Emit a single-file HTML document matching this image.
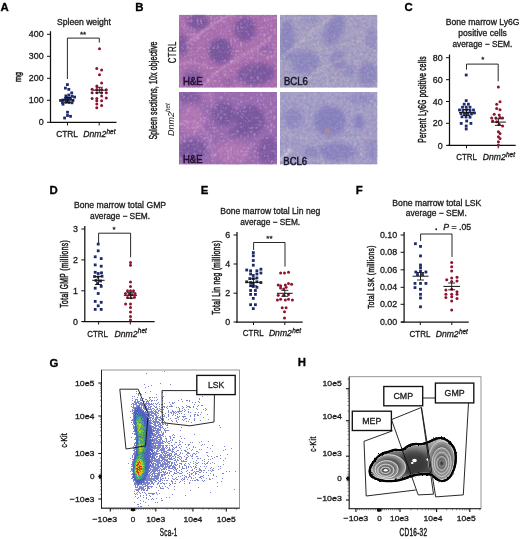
<!DOCTYPE html>
<html><head><meta charset="utf-8"><style>
html,body{margin:0;padding:0;background:#fff;}
svg{display:block;will-change:transform;font-family:"Liberation Sans", sans-serif;}
</style></head><body>
<svg width="520" height="539" viewBox="0 0 520 539">
<defs><filter id="blur3" x="-50%" y="-50%" width="200%" height="200%"><feGaussianBlur stdDeviation="2.3"/></filter><filter id="blur2" x="-50%" y="-50%" width="200%" height="200%"><feGaussianBlur stdDeviation="2.0"/></filter><filter id="blur1" x="-30%" y="-30%" width="160%" height="160%"><feGaussianBlur stdDeviation="0.9"/></filter><filter id="texl" x="0" y="0" width="100%" height="100%"><feTurbulence type="turbulence" baseFrequency="0.3" numOctaves="2" seed="4"/><feColorMatrix type="matrix" values="0 0 0 0 0.96  0 0 0 0 0.8  0 0 0 0 0.96  0 0 0 2.5 -0.6"/></filter><filter id="texb" x="0" y="0" width="100%" height="100%"><feTurbulence type="turbulence" baseFrequency="0.3" numOctaves="2" seed="6"/><feColorMatrix type="matrix" values="0 0 0 0 0.88  0 0 0 0 0.88  0 0 0 0 0.9  0 0 0 2.5 -0.6"/></filter><filter id="texd" x="0" y="0" width="100%" height="100%"><feTurbulence type="fractalNoise" baseFrequency="0.35" numOctaves="3" seed="8"/><feColorMatrix type="matrix" values="0 0 0 0 0.3  0 0 0 0 0.1  0 0 0 0 0.5  1.5 0 0 0 -0.55"/></filter><clipPath id="c1"><rect x="179" y="14.8" width="98" height="72.9"/></clipPath><clipPath id="c2"><rect x="280" y="14.8" width="97.5" height="72.9"/></clipPath><clipPath id="c3"><rect x="179" y="92" width="98" height="72.6"/></clipPath><clipPath id="c4"><rect x="280" y="92" width="97.5" height="72.6"/></clipPath><radialGradient id="zz" cx="0.5" cy="0.5" r="0.5"><stop offset="0" stop-color="#2a2a2a"/><stop offset="0.6" stop-color="#555"/><stop offset="1" stop-color="#a8a8a8"/></radialGradient><filter id="rough" x="-10%" y="-10%" width="120%" height="120%"><feTurbulence type="fractalNoise" baseFrequency="0.35" numOctaves="2" seed="2"/><feDisplacementMap in="SourceGraphic" scale="2.6" xChannelSelector="R" yChannelSelector="G"/></filter><radialGradient id="zc" cx="0.5" cy="0.5" r="0.5"><stop offset="0" stop-color="#2a2a2a"/><stop offset="1" stop-color="#909090"/></radialGradient><linearGradient id="zb" x1="0" y1="0" x2="0" y2="1"><stop offset="0" stop-color="#bdbdbd"/><stop offset="0.45" stop-color="#5a5a5a"/><stop offset="0.8" stop-color="#4a4a4a"/><stop offset="1" stop-color="#aaaaaa"/></linearGradient><clipPath id="zclip"><path d="M369.9,468.9 Q370.5,466.0 372.6,463.1 Q374.6,460.2 376.3,458.4 Q378.0,456.5 380.1,455.0 Q382.3,453.5 384.1,452.9 Q386.0,452.2 388.0,451.9 Q390.0,451.5 391.9,450.6 Q393.8,449.6 395.8,449.8 Q397.7,450.0 400.1,450.0 Q402.5,450.0 403.9,448.9 Q405.4,447.7 407.8,446.2 Q410.2,444.8 412.6,444.3 Q415.0,443.8 417.5,444.0 Q420.0,444.2 422.8,443.9 Q425.5,443.5 428.6,442.1 Q431.7,440.6 433.9,439.5 Q436.1,438.4 438.9,438.1 Q441.7,437.8 444.5,438.9 Q447.3,440.0 449.6,442.2 Q451.8,444.5 453.5,447.2 Q455.1,450.0 455.6,453.9 Q456.0,457.9 455.6,461.8 Q455.1,465.7 454.0,469.0 Q452.9,472.4 451.2,475.2 Q449.5,478.0 447.2,479.4 Q445.0,480.7 442.8,481.0 Q440.6,481.3 438.4,480.1 Q436.1,479.0 433.9,476.8 Q431.7,474.6 430.0,474.4 Q428.3,474.2 426.2,474.1 Q424.2,474.0 421.1,474.2 Q418.0,474.5 415.0,475.1 Q412.0,475.8 409.1,476.9 Q406.3,478.0 402.5,479.2 Q398.7,480.4 393.9,480.9 Q389.0,481.3 384.2,480.9 Q379.4,480.4 375.1,478.4 Q370.8,476.5 370.1,474.1 Q369.3,471.7 369.9,468.9Z"/></clipPath></defs>
<rect width="520" height="539" fill="#fff"/>
<text x="0.6" y="11.2" font-size="11.4" font-weight="bold" fill="#000" stroke="#000" stroke-width="0.3">A</text>
<text x="57" y="25.4" font-size="8.6" textLength="54" lengthAdjust="spacingAndGlyphs" fill="#1a1a1a" stroke="#1a1a1a" stroke-width="0.3">Spleen weight</text>
<line x1="50.5" y1="31.2" x2="50.5" y2="123.0" stroke="#111" stroke-width="1.25"/>
<line x1="50.5" y1="122.4" x2="116.5" y2="122.4" stroke="#111" stroke-width="1.25"/>
<line x1="47.0" y1="34.3" x2="50.5" y2="34.3" stroke="#111" stroke-width="1.0"/>
<text x="43.6" y="37.4" font-size="8.9" text-anchor="end" fill="#1a1a1a" stroke="#1a1a1a" stroke-width="0.3">400</text>
<line x1="47.0" y1="56.3" x2="50.5" y2="56.3" stroke="#111" stroke-width="1.0"/>
<text x="43.6" y="59.4" font-size="8.9" text-anchor="end" fill="#1a1a1a" stroke="#1a1a1a" stroke-width="0.3">300</text>
<line x1="47.0" y1="78.3" x2="50.5" y2="78.3" stroke="#111" stroke-width="1.0"/>
<text x="43.6" y="81.39999999999999" font-size="8.9" text-anchor="end" fill="#1a1a1a" stroke="#1a1a1a" stroke-width="0.3">200</text>
<line x1="47.0" y1="100.3" x2="50.5" y2="100.3" stroke="#111" stroke-width="1.0"/>
<text x="43.6" y="103.39999999999999" font-size="8.9" text-anchor="end" fill="#1a1a1a" stroke="#1a1a1a" stroke-width="0.3">100</text>
<line x1="47.0" y1="122.3" x2="50.5" y2="122.3" stroke="#111" stroke-width="1.0"/>
<text x="43.6" y="125.39999999999999" font-size="8.9" text-anchor="end" fill="#1a1a1a" stroke="#1a1a1a" stroke-width="0.3">0</text>
<line x1="67.5" y1="122.4" x2="67.5" y2="125.4" stroke="#111" stroke-width="1.0"/>
<line x1="99.2" y1="122.4" x2="99.2" y2="125.4" stroke="#111" stroke-width="1.0"/>
<path d="M67.4,79 L67.4,38.1 L99.3,38.1 L99.3,42.6" stroke="#111" stroke-width="0.9" fill="none"/>
<text x="83" y="36.5" font-size="8" text-anchor="middle" fill="#1a1a1a" stroke="#1a1a1a" stroke-width="0.3">**</text>
<text transform="translate(21.2,76.9) rotate(-90)" x="0" y="0" font-size="8.8" text-anchor="middle" textLength="10" lengthAdjust="spacingAndGlyphs" fill="#1a1a1a" stroke="#1a1a1a" stroke-width="0.48">mg</text>
<text x="56.2" y="136.8" font-size="8.6" textLength="21.8" lengthAdjust="spacingAndGlyphs" fill="#1a1a1a" stroke="#1a1a1a" stroke-width="0.3">CTRL</text>
<text x="83.3" y="136.9" font-size="8.6" font-style="italic" fill="#1a1a1a" stroke="#1a1a1a" stroke-width="0.3">Dnm2<tspan font-size="6.4" dy="-3.2" dx="0.3">het</tspan></text>
<rect x="66.0" y="83.2" width="2.8" height="2.8" fill="#1d2a6c"/>
<rect x="64.0" y="86.7" width="2.8" height="2.8" fill="#1d2a6c"/>
<rect x="67.4" y="88.0" width="2.8" height="2.8" fill="#1d2a6c"/>
<rect x="70.3" y="91.5" width="2.8" height="2.8" fill="#1d2a6c"/>
<rect x="64.5" y="94.5" width="2.8" height="2.8" fill="#1d2a6c"/>
<rect x="67.4" y="93.6" width="2.8" height="2.8" fill="#1d2a6c"/>
<rect x="70.7" y="94.9" width="2.8" height="2.8" fill="#1d2a6c"/>
<rect x="73.2" y="95.7" width="2.8" height="2.8" fill="#1d2a6c"/>
<rect x="59.1" y="99.1" width="2.8" height="2.8" fill="#1d2a6c"/>
<rect x="61.6" y="98.6" width="2.8" height="2.8" fill="#1d2a6c"/>
<rect x="64.1" y="98.1" width="2.8" height="2.8" fill="#1d2a6c"/>
<rect x="66.6" y="98.2" width="2.8" height="2.8" fill="#1d2a6c"/>
<rect x="69.1" y="97.6" width="2.8" height="2.8" fill="#1d2a6c"/>
<rect x="71.6" y="99.1" width="2.8" height="2.8" fill="#1d2a6c"/>
<rect x="61.1" y="101.1" width="2.8" height="2.8" fill="#1d2a6c"/>
<rect x="64.6" y="100.9" width="2.8" height="2.8" fill="#1d2a6c"/>
<rect x="67.6" y="101.1" width="2.8" height="2.8" fill="#1d2a6c"/>
<rect x="70.6" y="101.4" width="2.8" height="2.8" fill="#1d2a6c"/>
<rect x="61.6" y="102.8" width="2.8" height="2.8" fill="#1d2a6c"/>
<rect x="66.1" y="110.8" width="2.8" height="2.8" fill="#1d2a6c"/>
<rect x="66.1" y="114.1" width="2.8" height="2.8" fill="#1d2a6c"/>
<rect x="69.1" y="114.9" width="2.8" height="2.8" fill="#1d2a6c"/>
<rect x="63.2" y="116.6" width="2.8" height="2.8" fill="#1d2a6c"/>
<rect x="65.1" y="96.1" width="2.8" height="2.8" fill="#1d2a6c"/>
<rect x="68.1" y="96.6" width="2.8" height="2.8" fill="#1d2a6c"/>
<circle cx="99.5" cy="48.7" r="1.5" fill="#8e1430"/>
<circle cx="96.8" cy="68.4" r="1.5" fill="#8e1430"/>
<circle cx="101.6" cy="70.0" r="1.5" fill="#8e1430"/>
<circle cx="99.5" cy="74.7" r="1.5" fill="#8e1430"/>
<circle cx="101.6" cy="82.9" r="1.5" fill="#8e1430"/>
<circle cx="96.8" cy="86.0" r="1.5" fill="#8e1430"/>
<circle cx="92.1" cy="89.2" r="1.5" fill="#8e1430"/>
<circle cx="96.8" cy="89.5" r="1.5" fill="#8e1430"/>
<circle cx="101.6" cy="89.5" r="1.5" fill="#8e1430"/>
<circle cx="106.3" cy="89.7" r="1.5" fill="#8e1430"/>
<circle cx="92.1" cy="92.8" r="1.5" fill="#8e1430"/>
<circle cx="96.8" cy="92.8" r="1.5" fill="#8e1430"/>
<circle cx="101.6" cy="92.8" r="1.5" fill="#8e1430"/>
<circle cx="106.3" cy="92.8" r="1.5" fill="#8e1430"/>
<circle cx="101.6" cy="96.0" r="1.5" fill="#8e1430"/>
<circle cx="92.1" cy="98.4" r="1.5" fill="#8e1430"/>
<circle cx="96.8" cy="98.4" r="1.5" fill="#8e1430"/>
<circle cx="106.3" cy="98.0" r="1.5" fill="#8e1430"/>
<circle cx="96.8" cy="100.7" r="1.5" fill="#8e1430"/>
<circle cx="101.6" cy="100.7" r="1.5" fill="#8e1430"/>
<circle cx="96.8" cy="103.9" r="1.5" fill="#8e1430"/>
<circle cx="101.6" cy="105.5" r="1.5" fill="#8e1430"/>
<circle cx="96.8" cy="107.8" r="1.5" fill="#8e1430"/>
<line x1="61.0" y1="100.0" x2="74.0" y2="100.0" stroke="#111" stroke-width="1.0"/>
<line x1="67.5" y1="97.6" x2="67.5" y2="102.4" stroke="#111" stroke-width="0.9"/>
<line x1="64.0" y1="97.6" x2="71.0" y2="97.6" stroke="#111" stroke-width="0.9"/>
<line x1="64.0" y1="102.4" x2="71.0" y2="102.4" stroke="#111" stroke-width="0.9"/>
<line x1="92.8" y1="90.2" x2="105.8" y2="90.2" stroke="#111" stroke-width="1.0"/>
<line x1="99.3" y1="87.3" x2="99.3" y2="92.8" stroke="#111" stroke-width="0.9"/>
<line x1="95.8" y1="87.3" x2="102.8" y2="87.3" stroke="#111" stroke-width="0.9"/>
<line x1="95.8" y1="92.8" x2="102.8" y2="92.8" stroke="#111" stroke-width="0.9"/>
<text x="135.2" y="10.6" font-size="11.4" font-weight="bold" fill="#000" stroke="#000" stroke-width="0.3">B</text>
<g clip-path="url(#c1)">
<rect x="179" y="14.8" width="98" height="72.9" fill="#ac72ac"/>
<g filter="url(#blur3)">
<ellipse cx="198" cy="22" rx="11" ry="8" transform="rotate(0 198 22)" fill="#725498" opacity="0.85"/>
<ellipse cx="245" cy="29" rx="11" ry="12" transform="rotate(0 245 29)" fill="#725498" opacity="0.85"/>
<ellipse cx="220.5" cy="51" rx="12" ry="13" transform="rotate(0 220.5 51)" fill="#725498" opacity="0.95"/>
<ellipse cx="182" cy="45" rx="6" ry="11" transform="rotate(0 182 45)" fill="#725498" opacity="0.8"/>
<ellipse cx="256" cy="74" rx="19" ry="11" transform="rotate(-8 256 74)" fill="#725498" opacity="0.9"/>
<ellipse cx="193" cy="78" rx="10" ry="7" transform="rotate(0 193 78)" fill="#725498" opacity="0.7"/>
<ellipse cx="266" cy="50" rx="6" ry="6" transform="rotate(0 266 50)" fill="#725498" opacity="0.4"/>
<ellipse cx="228" cy="82" rx="6" ry="5" transform="rotate(0 228 82)" fill="#725498" opacity="0.35"/>
</g><g filter="url(#blur1)">
<path d="M186,44 Q200,34 212,25 T232,15" stroke="#d4aad0" stroke-width="1.6" fill="none" opacity="0.75" stroke-linecap="round"/>
<path d="M203,88 Q215,70 236,60 T272,36" stroke="#d4aad0" stroke-width="1.5" fill="none" opacity="0.7" stroke-linecap="round"/>
<path d="M179,64 Q195,60 208,68" stroke="#d4aad0" stroke-width="1.1" fill="none" opacity="0.6" stroke-linecap="round"/>
<path d="M236,88 L258,60" stroke="#d4aad0" stroke-width="0.8" fill="none" opacity="0.5" stroke-linecap="round"/>
<path d="M250,47 Q260,56 277,57" stroke="#d4aad0" stroke-width="1.0" fill="none" opacity="0.5" stroke-linecap="round"/>
</g>
<rect x="179" y="14.8" width="98" height="72.9" filter="url(#texl)" opacity="0.3"/>
<rect x="179" y="14.8" width="98" height="72.9" filter="url(#texd)" opacity="0.6"/>
</g>
<g clip-path="url(#c2)">
<rect x="280" y="14.8" width="97.5" height="72.9" fill="#a6a6c2"/>
<g filter="url(#blur3)">
<ellipse cx="287" cy="40" rx="8" ry="20" transform="rotate(0 287 40)" fill="#8080bc" opacity="0.7"/>
<ellipse cx="334" cy="30" rx="9" ry="16" transform="rotate(25 334 30)" fill="#8080bc" opacity="0.75"/>
<ellipse cx="305" cy="62" rx="14" ry="12" transform="rotate(0 305 62)" fill="#8080bc" opacity="0.7"/>
<ellipse cx="338" cy="60" rx="8" ry="10" transform="rotate(0 338 60)" fill="#8080bc" opacity="0.6"/>
<ellipse cx="368" cy="74" rx="10" ry="12" transform="rotate(0 368 74)" fill="#8080bc" opacity="0.7"/>
<ellipse cx="349" cy="71" rx="5" ry="6" transform="rotate(0 349 71)" fill="#8080bc" opacity="0.6"/>
<ellipse cx="372" cy="40" rx="6" ry="12" transform="rotate(0 372 40)" fill="#8080bc" opacity="0.45"/>
<ellipse cx="310" cy="20" rx="8" ry="5" transform="rotate(0 310 20)" fill="#8080bc" opacity="0.4"/>
</g><g filter="url(#blur1)">
<path d="M284,56 Q300,42 315,30 T332,14" stroke="#bcbcc4" stroke-width="1.8" fill="none" opacity="0.8" stroke-linecap="round"/>
<path d="M300,88 Q312,72 326,66 T350,56" stroke="#bcbcc4" stroke-width="1.5" fill="none" opacity="0.7" stroke-linecap="round"/>
<path d="M318,46 L330,86" stroke="#bcbcc4" stroke-width="1.0" fill="none" opacity="0.6" stroke-linecap="round"/>
<path d="M352,30 Q360,46 377,52" stroke="#bcbcc4" stroke-width="1.2" fill="none" opacity="0.6" stroke-linecap="round"/>
</g>
<rect x="280" y="14.8" width="97.5" height="72.9" filter="url(#texb)" opacity="0.18"/>
<rect x="280" y="14.8" width="97.5" height="72.9" filter="url(#texd)" opacity="0.5"/>
</g>
<g clip-path="url(#c3)">
<rect x="179" y="92" width="98" height="72.6" fill="#9a6eae"/>
<g filter="url(#blur3)">
<ellipse cx="192" cy="120" rx="13" ry="15" transform="rotate(0 192 120)" fill="#b87cb4" opacity="0.85"/>
<ellipse cx="232" cy="153" rx="18" ry="11" transform="rotate(0 232 153)" fill="#b87cb4" opacity="0.8"/>
<ellipse cx="208" cy="96" rx="8" ry="4" transform="rotate(0 208 96)" fill="#b87cb4" opacity="0.6"/>
<ellipse cx="224" cy="114" rx="12" ry="12" transform="rotate(0 224 114)" fill="#725498" opacity="0.9"/>
<ellipse cx="250" cy="121" rx="15" ry="16" transform="rotate(0 250 121)" fill="#725498" opacity="0.9"/>
<ellipse cx="193" cy="151" rx="14" ry="12" transform="rotate(0 193 151)" fill="#725498" opacity="0.85"/>
<ellipse cx="268" cy="150" rx="10" ry="14" transform="rotate(0 268 150)" fill="#725498" opacity="0.75"/>
<ellipse cx="190" cy="97" rx="12" ry="6" transform="rotate(0 190 97)" fill="#725498" opacity="0.6"/>
<ellipse cx="237" cy="132" rx="9" ry="6" transform="rotate(0 237 132)" fill="#725498" opacity="0.6"/>
</g><g filter="url(#blur1)">
<path d="M179,124 Q190,118 200,126 T214,160" stroke="#d4aad0" stroke-width="1.3" fill="none" opacity="0.65" stroke-linecap="round"/>
<path d="M212,92 Q210,106 220,114" stroke="#d4aad0" stroke-width="1.0" fill="none" opacity="0.5" stroke-linecap="round"/>
<path d="M240,164 Q246,150 262,136" stroke="#d4aad0" stroke-width="1.0" fill="none" opacity="0.5" stroke-linecap="round"/>
<path d="M200,165 L212,138" stroke="#d4aad0" stroke-width="0.9" fill="none" opacity="0.5" stroke-linecap="round"/>
</g>
<rect x="179" y="92" width="98" height="72.6" filter="url(#texl)" opacity="0.3"/>
<rect x="179" y="92" width="98" height="72.6" filter="url(#texd)" opacity="0.6"/>
</g>
<g clip-path="url(#c4)">
<rect x="280" y="92" width="97.5" height="72.6" fill="#a3a3c6"/>
<g filter="url(#blur3)">
<ellipse cx="330" cy="121" rx="16" ry="15" transform="rotate(0 330 121)" fill="#8080bc" opacity="0.85"/>
<ellipse cx="359" cy="122" rx="5" ry="7" transform="rotate(0 359 122)" fill="#8080bc" opacity="0.85"/>
<ellipse cx="337" cy="152" rx="20" ry="9" transform="rotate(0 337 152)" fill="#8080bc" opacity="0.75"/>
<ellipse cx="293" cy="118" rx="10" ry="10" transform="rotate(0 293 118)" fill="#8080bc" opacity="0.6"/>
<ellipse cx="312" cy="151" rx="9" ry="6" transform="rotate(0 312 151)" fill="#8080bc" opacity="0.6"/>
<ellipse cx="361" cy="99" rx="13" ry="5" transform="rotate(0 361 99)" fill="#8080bc" opacity="0.5"/>
<ellipse cx="372" cy="150" rx="6" ry="12" transform="rotate(0 372 150)" fill="#8080bc" opacity="0.45"/>
</g><g filter="url(#blur1)">
<path d="M280,132 Q296,134 310,142 T322,165" stroke="#bcbcc4" stroke-width="1.6" fill="none" opacity="0.7" stroke-linecap="round"/>
<path d="M280,160 L290,150" stroke="#e0e0e6" stroke-width="2.5" fill="none" opacity="0.8" stroke-linecap="round"/>
<path d="M300,92 Q318,98 340,104" stroke="#bcbcc4" stroke-width="1.0" fill="none" opacity="0.5" stroke-linecap="round"/>
<path d="M342,140 Q354,136 377,138" stroke="#bcbcc4" stroke-width="1.1" fill="none" opacity="0.6" stroke-linecap="round"/>
</g>
<rect x="280" y="92" width="97.5" height="72.6" filter="url(#texb)" opacity="0.18"/>
<rect x="280" y="92" width="97.5" height="72.6" filter="url(#texd)" opacity="0.5"/>
</g>
<circle cx="327.5" cy="131" r="3.2" fill="#b89090" opacity="0.55" filter="url(#blur1)"/>
<text x="182.9" y="162.7" font-size="10.4" textLength="19.6" lengthAdjust="spacingAndGlyphs" fill="#24102e" stroke="#24102e" stroke-width="0.5">H&amp;E</text>
<text x="182.9" y="85.4" font-size="10.4" textLength="19.9" lengthAdjust="spacingAndGlyphs" fill="#24102e" stroke="#24102e" stroke-width="0.5">H&amp;E</text>
<text x="284" y="85.4" font-size="10.4" textLength="23.8" lengthAdjust="spacingAndGlyphs" fill="#15152a" stroke="#15152a" stroke-width="0.45">BCL6</text>
<text x="283.3" y="165.2" font-size="10.4" textLength="23.8" lengthAdjust="spacingAndGlyphs" fill="#15152a" stroke="#15152a" stroke-width="0.45">BCL6</text>
<text transform="translate(157.3,90.6) rotate(-90) scale(0.68,1)" x="0" y="0" font-size="10.2" text-anchor="middle" textLength="144.12" lengthAdjust="spacing" fill="#1a1a1a" stroke="#1a1a1a" stroke-width="0.48">Spleen sections, 10x objective</text>
<text transform="translate(175.8,52.5) rotate(-90) scale(0.76,1)" x="0" y="0" font-size="10.3" text-anchor="middle" textLength="28.42" lengthAdjust="spacing" fill="#1a1a1a" stroke="#1a1a1a" stroke-width="0.3">CTRL</text>
<text transform="translate(173.7,136) rotate(-90)" x="0" y="0" font-size="9" font-style="italic" fill="#1a1a1a">Dnm2<tspan font-size="6.4" dy="-3.4">het</tspan></text>
<text x="404.6" y="10.8" font-size="11.4" font-weight="bold" fill="#000" stroke="#000" stroke-width="0.3">C</text>
<text x="482.6" y="25.4" font-size="8.6" text-anchor="middle" textLength="73.7" lengthAdjust="spacingAndGlyphs" fill="#1a1a1a" stroke="#1a1a1a" stroke-width="0.3">Bone marrow Ly6G</text>
<text x="482.6" y="36.2" font-size="8.6" text-anchor="middle" textLength="48.5" lengthAdjust="spacingAndGlyphs" fill="#1a1a1a" stroke="#1a1a1a" stroke-width="0.3">positive cells</text>
<text x="482.4" y="46.9" font-size="8.6" text-anchor="middle" textLength="60" lengthAdjust="spacingAndGlyphs" fill="#1a1a1a" stroke="#1a1a1a" stroke-width="0.3">average − SEM.</text>
<line x1="449.5" y1="54.5" x2="449.5" y2="145.9" stroke="#111" stroke-width="1.25"/>
<line x1="447.7" y1="145.3" x2="515.7" y2="145.3" stroke="#111" stroke-width="1.25"/>
<line x1="446.0" y1="57.7" x2="449.5" y2="57.7" stroke="#111" stroke-width="1.0"/>
<text x="442.6" y="60.800000000000004" font-size="8.9" text-anchor="end" fill="#1a1a1a" stroke="#1a1a1a" stroke-width="0.3">80</text>
<line x1="446.0" y1="79.7" x2="449.5" y2="79.7" stroke="#111" stroke-width="1.0"/>
<text x="442.6" y="82.8" font-size="8.9" text-anchor="end" fill="#1a1a1a" stroke="#1a1a1a" stroke-width="0.3">60</text>
<line x1="446.0" y1="101.5" x2="449.5" y2="101.5" stroke="#111" stroke-width="1.0"/>
<text x="442.6" y="104.6" font-size="8.9" text-anchor="end" fill="#1a1a1a" stroke="#1a1a1a" stroke-width="0.3">40</text>
<line x1="446.0" y1="123.3" x2="449.5" y2="123.3" stroke="#111" stroke-width="1.0"/>
<text x="442.6" y="126.39999999999999" font-size="8.9" text-anchor="end" fill="#1a1a1a" stroke="#1a1a1a" stroke-width="0.3">20</text>
<line x1="446.0" y1="145.4" x2="449.5" y2="145.4" stroke="#111" stroke-width="1.0"/>
<text x="442.6" y="148.5" font-size="8.9" text-anchor="end" fill="#1a1a1a" stroke="#1a1a1a" stroke-width="0.3">0</text>
<line x1="466.5" y1="145.3" x2="466.5" y2="148.3" stroke="#111" stroke-width="1.0"/>
<line x1="498.2" y1="145.3" x2="498.2" y2="148.3" stroke="#111" stroke-width="1.0"/>
<path d="M466.5,69.6 L466.5,64.1 L498.2,64.1 L498.2,81.3" stroke="#111" stroke-width="0.9" fill="none"/>
<text x="482.7" y="62" font-size="8" text-anchor="middle" fill="#1a1a1a" stroke="#1a1a1a" stroke-width="0.3">*</text>
<text transform="translate(426.4,99.6) rotate(-90) scale(0.66,1)" x="0" y="0" font-size="10.0" text-anchor="middle" textLength="130.76" lengthAdjust="spacing" fill="#1a1a1a" stroke="#1a1a1a" stroke-width="0.5">Percent Ly6G positive cells</text>
<text x="456.2" y="160" font-size="8.6" textLength="20.7" lengthAdjust="spacingAndGlyphs" fill="#1a1a1a" stroke="#1a1a1a" stroke-width="0.3">CTRL</text>
<text x="482.8" y="160" font-size="8.6" font-style="italic" fill="#1a1a1a" stroke="#1a1a1a" stroke-width="0.3">Dnm2<tspan font-size="6.4" dy="-3.2" dx="0.3">het</tspan></text>
<rect x="464.8" y="73.6" width="2.8" height="2.8" fill="#1d2a6c"/>
<rect x="464.8" y="99.2" width="2.8" height="2.8" fill="#1d2a6c"/>
<rect x="462.8" y="102.8" width="2.8" height="2.8" fill="#1d2a6c"/>
<rect x="467.0" y="102.8" width="2.8" height="2.8" fill="#1d2a6c"/>
<rect x="461.1" y="105.8" width="2.8" height="2.8" fill="#1d2a6c"/>
<rect x="464.8" y="105.8" width="2.8" height="2.8" fill="#1d2a6c"/>
<rect x="468.6" y="105.8" width="2.8" height="2.8" fill="#1d2a6c"/>
<rect x="458.1" y="108.6" width="2.8" height="2.8" fill="#1d2a6c"/>
<rect x="461.6" y="109.1" width="2.8" height="2.8" fill="#1d2a6c"/>
<rect x="465.1" y="108.6" width="2.8" height="2.8" fill="#1d2a6c"/>
<rect x="468.6" y="109.1" width="2.8" height="2.8" fill="#1d2a6c"/>
<rect x="472.1" y="108.6" width="2.8" height="2.8" fill="#1d2a6c"/>
<rect x="459.6" y="112.1" width="2.8" height="2.8" fill="#1d2a6c"/>
<rect x="463.1" y="112.6" width="2.8" height="2.8" fill="#1d2a6c"/>
<rect x="466.6" y="112.1" width="2.8" height="2.8" fill="#1d2a6c"/>
<rect x="470.1" y="112.6" width="2.8" height="2.8" fill="#1d2a6c"/>
<rect x="473.1" y="111.6" width="2.8" height="2.8" fill="#1d2a6c"/>
<rect x="460.6" y="115.4" width="2.8" height="2.8" fill="#1d2a6c"/>
<rect x="464.6" y="115.6" width="2.8" height="2.8" fill="#1d2a6c"/>
<rect x="468.6" y="115.8" width="2.8" height="2.8" fill="#1d2a6c"/>
<rect x="459.8" y="122.0" width="2.8" height="2.8" fill="#1d2a6c"/>
<rect x="465.3" y="119.6" width="2.8" height="2.8" fill="#1d2a6c"/>
<rect x="469.5" y="122.0" width="2.8" height="2.8" fill="#1d2a6c"/>
<rect x="464.8" y="124.6" width="2.8" height="2.8" fill="#1d2a6c"/>
<rect x="464.8" y="127.6" width="2.8" height="2.8" fill="#1d2a6c"/>
<circle cx="498.4" cy="87.0" r="1.5" fill="#8e1430"/>
<circle cx="500.0" cy="101.7" r="1.5" fill="#8e1430"/>
<circle cx="496.7" cy="104.2" r="1.5" fill="#8e1430"/>
<circle cx="496.7" cy="108.4" r="1.5" fill="#8e1430"/>
<circle cx="500.0" cy="109.7" r="1.5" fill="#8e1430"/>
<circle cx="494.2" cy="114.3" r="1.5" fill="#8e1430"/>
<circle cx="499.2" cy="115.0" r="1.5" fill="#8e1430"/>
<circle cx="491.7" cy="118.0" r="1.5" fill="#8e1430"/>
<circle cx="495.9" cy="118.0" r="1.5" fill="#8e1430"/>
<circle cx="500.0" cy="117.6" r="1.5" fill="#8e1430"/>
<circle cx="502.6" cy="118.0" r="1.5" fill="#8e1430"/>
<circle cx="492.6" cy="121.0" r="1.5" fill="#8e1430"/>
<circle cx="496.7" cy="121.8" r="1.5" fill="#8e1430"/>
<circle cx="499.2" cy="124.3" r="1.5" fill="#8e1430"/>
<circle cx="502.6" cy="126.0" r="1.5" fill="#8e1430"/>
<circle cx="498.4" cy="131.8" r="1.5" fill="#8e1430"/>
<circle cx="500.0" cy="133.5" r="1.5" fill="#8e1430"/>
<circle cx="498.4" cy="136.8" r="1.5" fill="#8e1430"/>
<circle cx="500.0" cy="138.5" r="1.5" fill="#8e1430"/>
<circle cx="498.4" cy="141.8" r="1.5" fill="#8e1430"/>
<circle cx="498.4" cy="145.0" r="1.5" fill="#8e1430"/>
<line x1="459.0" y1="112.6" x2="474.0" y2="112.6" stroke="#111" stroke-width="1.0"/>
<line x1="466.5" y1="109.5" x2="466.5" y2="115.5" stroke="#111" stroke-width="0.9"/>
<line x1="463.0" y1="109.5" x2="470.0" y2="109.5" stroke="#111" stroke-width="0.9"/>
<line x1="463.0" y1="115.5" x2="470.0" y2="115.5" stroke="#111" stroke-width="0.9"/>
<line x1="490.9" y1="122.1" x2="505.9" y2="122.1" stroke="#111" stroke-width="1.0"/>
<line x1="498.4" y1="118.8" x2="498.4" y2="125.4" stroke="#111" stroke-width="0.9"/>
<line x1="494.9" y1="118.8" x2="501.9" y2="118.8" stroke="#111" stroke-width="0.9"/>
<line x1="494.9" y1="125.4" x2="501.9" y2="125.4" stroke="#111" stroke-width="0.9"/>
<text x="49.6" y="194.4" font-size="11.4" font-weight="bold" fill="#000" stroke="#000" stroke-width="0.3">D</text>
<text x="120" y="208.1" font-size="8.6" text-anchor="middle" textLength="92.2" lengthAdjust="spacingAndGlyphs" fill="#1a1a1a" stroke="#1a1a1a" stroke-width="0.3">Bone marrow total GMP</text>
<text x="120" y="218.6" font-size="8.6" text-anchor="middle" textLength="60" lengthAdjust="spacingAndGlyphs" fill="#1a1a1a" stroke="#1a1a1a" stroke-width="0.3">average − SEM.</text>
<line x1="84.8" y1="226" x2="84.8" y2="322.1" stroke="#111" stroke-width="1.25"/>
<line x1="82.5" y1="321.5" x2="154.6" y2="321.5" stroke="#111" stroke-width="1.25"/>
<line x1="81.3" y1="229" x2="84.8" y2="229" stroke="#111" stroke-width="1.0"/>
<text x="77.89999999999999" y="232.1" font-size="8.9" text-anchor="end" fill="#1a1a1a" stroke="#1a1a1a" stroke-width="0.3">3</text>
<line x1="81.3" y1="259.9" x2="84.8" y2="259.9" stroke="#111" stroke-width="1.0"/>
<text x="77.89999999999999" y="263.0" font-size="8.9" text-anchor="end" fill="#1a1a1a" stroke="#1a1a1a" stroke-width="0.3">2</text>
<line x1="81.3" y1="290.8" x2="84.8" y2="290.8" stroke="#111" stroke-width="1.0"/>
<text x="77.89999999999999" y="293.90000000000003" font-size="8.9" text-anchor="end" fill="#1a1a1a" stroke="#1a1a1a" stroke-width="0.3">1</text>
<line x1="81.3" y1="321.5" x2="84.8" y2="321.5" stroke="#111" stroke-width="1.0"/>
<text x="77.89999999999999" y="324.6" font-size="8.9" text-anchor="end" fill="#1a1a1a" stroke="#1a1a1a" stroke-width="0.3">0</text>
<line x1="98.6" y1="321.5" x2="98.6" y2="324.5" stroke="#111" stroke-width="1.0"/>
<line x1="130.3" y1="321.5" x2="130.3" y2="324.5" stroke="#111" stroke-width="1.0"/>
<path d="M98.6,243 L98.6,233.2 L130.6,233.2 L130.6,257.3" stroke="#111" stroke-width="0.9" fill="none"/>
<text x="114" y="232" font-size="8" text-anchor="middle" fill="#1a1a1a" stroke="#1a1a1a" stroke-width="0.3">*</text>
<text transform="translate(68.0,274) rotate(-90) scale(0.66,1)" x="0" y="0" font-size="10.1" text-anchor="middle" textLength="102.27" lengthAdjust="spacing" fill="#1a1a1a" stroke="#1a1a1a" stroke-width="0.5">Total GMP (millions)</text>
<text x="87.3" y="336.5" font-size="8.6" textLength="20.7" lengthAdjust="spacingAndGlyphs" fill="#1a1a1a" stroke="#1a1a1a" stroke-width="0.3">CTRL</text>
<text x="114.6" y="336.5" font-size="8.6" font-style="italic" fill="#1a1a1a" stroke="#1a1a1a" stroke-width="0.3">Dnm2<tspan font-size="6.4" dy="-3.2" dx="0.3">het</tspan></text>
<rect x="96.8" y="242.7" width="2.8" height="2.8" fill="#1d2a6c"/>
<rect x="96.8" y="249.4" width="2.8" height="2.8" fill="#1d2a6c"/>
<rect x="93.8" y="255.4" width="2.8" height="2.8" fill="#1d2a6c"/>
<rect x="99.8" y="257.2" width="2.8" height="2.8" fill="#1d2a6c"/>
<rect x="93.8" y="263.5" width="2.8" height="2.8" fill="#1d2a6c"/>
<rect x="99.8" y="264.8" width="2.8" height="2.8" fill="#1d2a6c"/>
<rect x="93.8" y="270.9" width="2.8" height="2.8" fill="#1d2a6c"/>
<rect x="96.8" y="272.1" width="2.8" height="2.8" fill="#1d2a6c"/>
<rect x="100.1" y="271.4" width="2.8" height="2.8" fill="#1d2a6c"/>
<rect x="93.1" y="275.1" width="2.8" height="2.8" fill="#1d2a6c"/>
<rect x="96.6" y="275.6" width="2.8" height="2.8" fill="#1d2a6c"/>
<rect x="100.6" y="274.8" width="2.8" height="2.8" fill="#1d2a6c"/>
<rect x="94.6" y="279.1" width="2.8" height="2.8" fill="#1d2a6c"/>
<rect x="99.1" y="279.6" width="2.8" height="2.8" fill="#1d2a6c"/>
<rect x="96.1" y="282.1" width="2.8" height="2.8" fill="#1d2a6c"/>
<rect x="99.8" y="285.0" width="2.8" height="2.8" fill="#1d2a6c"/>
<rect x="93.8" y="286.8" width="2.8" height="2.8" fill="#1d2a6c"/>
<rect x="96.8" y="292.1" width="2.8" height="2.8" fill="#1d2a6c"/>
<rect x="93.8" y="300.0" width="2.8" height="2.8" fill="#1d2a6c"/>
<rect x="99.8" y="300.9" width="2.8" height="2.8" fill="#1d2a6c"/>
<rect x="96.8" y="304.4" width="2.8" height="2.8" fill="#1d2a6c"/>
<rect x="93.8" y="308.0" width="2.8" height="2.8" fill="#1d2a6c"/>
<rect x="99.8" y="308.0" width="2.8" height="2.8" fill="#1d2a6c"/>
<circle cx="130.5" cy="262.6" r="1.5" fill="#8e1430"/>
<circle cx="130.5" cy="265.3" r="1.5" fill="#8e1430"/>
<circle cx="130.5" cy="282.0" r="1.5" fill="#8e1430"/>
<circle cx="130.5" cy="286.4" r="1.5" fill="#8e1430"/>
<circle cx="127.5" cy="290.8" r="1.5" fill="#8e1430"/>
<circle cx="130.5" cy="290.8" r="1.5" fill="#8e1430"/>
<circle cx="133.5" cy="290.8" r="1.5" fill="#8e1430"/>
<circle cx="125.5" cy="293.5" r="1.5" fill="#8e1430"/>
<circle cx="129.0" cy="294.0" r="1.5" fill="#8e1430"/>
<circle cx="132.0" cy="294.5" r="1.5" fill="#8e1430"/>
<circle cx="135.0" cy="293.5" r="1.5" fill="#8e1430"/>
<circle cx="127.5" cy="297.5" r="1.5" fill="#8e1430"/>
<circle cx="131.0" cy="297.8" r="1.5" fill="#8e1430"/>
<circle cx="134.5" cy="297.2" r="1.5" fill="#8e1430"/>
<circle cx="125.6" cy="304.0" r="1.5" fill="#8e1430"/>
<circle cx="130.5" cy="304.0" r="1.5" fill="#8e1430"/>
<circle cx="130.5" cy="307.6" r="1.5" fill="#8e1430"/>
<circle cx="130.5" cy="312.0" r="1.5" fill="#8e1430"/>
<circle cx="130.5" cy="316.4" r="1.5" fill="#8e1430"/>
<circle cx="130.5" cy="320.0" r="1.5" fill="#8e1430"/>
<line x1="92.2" y1="280.3" x2="104.60000000000001" y2="280.3" stroke="#111" stroke-width="1.0"/>
<line x1="98.4" y1="276.5" x2="98.4" y2="284.5" stroke="#111" stroke-width="0.9"/>
<line x1="94.9" y1="276.5" x2="101.9" y2="276.5" stroke="#111" stroke-width="0.9"/>
<line x1="94.9" y1="284.5" x2="101.9" y2="284.5" stroke="#111" stroke-width="0.9"/>
<line x1="123.80000000000001" y1="295.3" x2="137.0" y2="295.3" stroke="#111" stroke-width="1.0"/>
<line x1="130.4" y1="292.3" x2="130.4" y2="298.3" stroke="#111" stroke-width="0.9"/>
<line x1="126.9" y1="292.3" x2="133.9" y2="292.3" stroke="#111" stroke-width="0.9"/>
<line x1="126.9" y1="298.3" x2="133.9" y2="298.3" stroke="#111" stroke-width="0.9"/>
<text x="200.8" y="194.4" font-size="11.4" font-weight="bold" fill="#000" stroke="#000" stroke-width="0.3">E</text>
<text x="270.2" y="214.4" font-size="8.6" text-anchor="middle" textLength="100" lengthAdjust="spacingAndGlyphs" fill="#1a1a1a" stroke="#1a1a1a" stroke-width="0.3">Bone marrow total Lin neg</text>
<text x="270.2" y="224.8" font-size="8.6" text-anchor="middle" textLength="60" lengthAdjust="spacingAndGlyphs" fill="#1a1a1a" stroke="#1a1a1a" stroke-width="0.3">average − SEM.</text>
<line x1="237" y1="232" x2="237" y2="322.6" stroke="#111" stroke-width="1.25"/>
<line x1="236" y1="322" x2="302.7" y2="322" stroke="#111" stroke-width="1.25"/>
<line x1="233.5" y1="235" x2="237" y2="235" stroke="#111" stroke-width="1.0"/>
<text x="230.1" y="238.1" font-size="8.9" text-anchor="end" fill="#1a1a1a" stroke="#1a1a1a" stroke-width="0.3">6</text>
<line x1="233.5" y1="264" x2="237" y2="264" stroke="#111" stroke-width="1.0"/>
<text x="230.1" y="267.1" font-size="8.9" text-anchor="end" fill="#1a1a1a" stroke="#1a1a1a" stroke-width="0.3">4</text>
<line x1="233.5" y1="293.2" x2="237" y2="293.2" stroke="#111" stroke-width="1.0"/>
<text x="230.1" y="296.3" font-size="8.9" text-anchor="end" fill="#1a1a1a" stroke="#1a1a1a" stroke-width="0.3">2</text>
<line x1="233.5" y1="322" x2="237" y2="322" stroke="#111" stroke-width="1.0"/>
<text x="230.1" y="325.1" font-size="8.9" text-anchor="end" fill="#1a1a1a" stroke="#1a1a1a" stroke-width="0.3">0</text>
<line x1="253.5" y1="322" x2="253.5" y2="325.0" stroke="#111" stroke-width="1.0"/>
<line x1="284.8" y1="322" x2="284.8" y2="325.0" stroke="#111" stroke-width="1.0"/>
<path d="M253.6,250 L253.6,242.5 L285,242.5 L285,266.6" stroke="#111" stroke-width="0.9" fill="none"/>
<text x="269.4" y="241" font-size="8" text-anchor="middle" fill="#1a1a1a" stroke="#1a1a1a" stroke-width="0.3">**</text>
<text transform="translate(219.8,277.6) rotate(-90) scale(0.66,1)" x="0" y="0" font-size="10.1" text-anchor="middle" textLength="112.42" lengthAdjust="spacing" fill="#1a1a1a" stroke="#1a1a1a" stroke-width="0.5">Total Lin neg (millions)</text>
<text x="242.8" y="336.2" font-size="8.6" textLength="20.9" lengthAdjust="spacingAndGlyphs" fill="#1a1a1a" stroke="#1a1a1a" stroke-width="0.3">CTRL</text>
<text x="268.9" y="336.2" font-size="8.6" font-style="italic" fill="#1a1a1a" stroke="#1a1a1a" stroke-width="0.3">Dnm2<tspan font-size="6.4" dy="-3.2" dx="0.3">het</tspan></text>
<rect x="251.9" y="251.2" width="2.8" height="2.8" fill="#1d2a6c"/>
<rect x="251.9" y="254.4" width="2.8" height="2.8" fill="#1d2a6c"/>
<rect x="251.9" y="259.1" width="2.8" height="2.8" fill="#1d2a6c"/>
<rect x="251.9" y="263.8" width="2.8" height="2.8" fill="#1d2a6c"/>
<rect x="245.3" y="268.6" width="2.8" height="2.8" fill="#1d2a6c"/>
<rect x="249.2" y="269.4" width="2.8" height="2.8" fill="#1d2a6c"/>
<rect x="255.5" y="269.4" width="2.8" height="2.8" fill="#1d2a6c"/>
<rect x="259.5" y="267.8" width="2.8" height="2.8" fill="#1d2a6c"/>
<rect x="249.2" y="272.6" width="2.8" height="2.8" fill="#1d2a6c"/>
<rect x="251.9" y="274.1" width="2.8" height="2.8" fill="#1d2a6c"/>
<rect x="255.5" y="272.6" width="2.8" height="2.8" fill="#1d2a6c"/>
<rect x="259.5" y="271.6" width="2.8" height="2.8" fill="#1d2a6c"/>
<rect x="248.4" y="277.2" width="2.8" height="2.8" fill="#1d2a6c"/>
<rect x="251.9" y="277.2" width="2.8" height="2.8" fill="#1d2a6c"/>
<rect x="255.5" y="276.5" width="2.8" height="2.8" fill="#1d2a6c"/>
<rect x="245.3" y="280.4" width="2.8" height="2.8" fill="#1d2a6c"/>
<rect x="249.2" y="281.2" width="2.8" height="2.8" fill="#1d2a6c"/>
<rect x="251.9" y="282.0" width="2.8" height="2.8" fill="#1d2a6c"/>
<rect x="255.5" y="280.4" width="2.8" height="2.8" fill="#1d2a6c"/>
<rect x="259.5" y="281.2" width="2.8" height="2.8" fill="#1d2a6c"/>
<rect x="249.2" y="284.3" width="2.8" height="2.8" fill="#1d2a6c"/>
<rect x="251.9" y="285.1" width="2.8" height="2.8" fill="#1d2a6c"/>
<rect x="255.5" y="285.9" width="2.8" height="2.8" fill="#1d2a6c"/>
<rect x="249.2" y="289.1" width="2.8" height="2.8" fill="#1d2a6c"/>
<rect x="254.0" y="289.1" width="2.8" height="2.8" fill="#1d2a6c"/>
<rect x="249.2" y="293.0" width="2.8" height="2.8" fill="#1d2a6c"/>
<rect x="254.0" y="293.0" width="2.8" height="2.8" fill="#1d2a6c"/>
<rect x="251.9" y="297.0" width="2.8" height="2.8" fill="#1d2a6c"/>
<rect x="249.2" y="303.3" width="2.8" height="2.8" fill="#1d2a6c"/>
<rect x="254.0" y="303.3" width="2.8" height="2.8" fill="#1d2a6c"/>
<rect x="251.9" y="307.2" width="2.8" height="2.8" fill="#1d2a6c"/>
<circle cx="280.6" cy="273.1" r="1.5" fill="#8e1430"/>
<circle cx="284.5" cy="273.1" r="1.5" fill="#8e1430"/>
<circle cx="288.5" cy="272.3" r="1.5" fill="#8e1430"/>
<circle cx="278.2" cy="285.0" r="1.5" fill="#8e1430"/>
<circle cx="280.6" cy="285.7" r="1.5" fill="#8e1430"/>
<circle cx="285.3" cy="285.0" r="1.5" fill="#8e1430"/>
<circle cx="288.5" cy="283.4" r="1.5" fill="#8e1430"/>
<circle cx="291.6" cy="284.2" r="1.5" fill="#8e1430"/>
<circle cx="280.6" cy="288.1" r="1.5" fill="#8e1430"/>
<circle cx="283.7" cy="288.9" r="1.5" fill="#8e1430"/>
<circle cx="286.1" cy="287.3" r="1.5" fill="#8e1430"/>
<circle cx="278.2" cy="295.2" r="1.5" fill="#8e1430"/>
<circle cx="283.7" cy="295.2" r="1.5" fill="#8e1430"/>
<circle cx="288.5" cy="294.4" r="1.5" fill="#8e1430"/>
<circle cx="277.4" cy="300.0" r="1.5" fill="#8e1430"/>
<circle cx="280.6" cy="299.2" r="1.5" fill="#8e1430"/>
<circle cx="285.3" cy="300.0" r="1.5" fill="#8e1430"/>
<circle cx="288.5" cy="299.2" r="1.5" fill="#8e1430"/>
<circle cx="292.4" cy="300.0" r="1.5" fill="#8e1430"/>
<circle cx="282.2" cy="307.8" r="1.5" fill="#8e1430"/>
<circle cx="286.1" cy="307.8" r="1.5" fill="#8e1430"/>
<circle cx="284.5" cy="311.8" r="1.5" fill="#8e1430"/>
<circle cx="284.5" cy="318.0" r="1.5" fill="#8e1430"/>
<line x1="245.20000000000002" y1="282.3" x2="261.6" y2="282.3" stroke="#111" stroke-width="1.0"/>
<line x1="253.4" y1="278.8" x2="253.4" y2="285.8" stroke="#111" stroke-width="0.9"/>
<line x1="249.9" y1="278.8" x2="256.9" y2="278.8" stroke="#111" stroke-width="0.9"/>
<line x1="249.9" y1="285.8" x2="256.9" y2="285.8" stroke="#111" stroke-width="0.9"/>
<line x1="276.90000000000003" y1="293.3" x2="292.7" y2="293.3" stroke="#111" stroke-width="1.0"/>
<line x1="284.8" y1="290.3" x2="284.8" y2="296.3" stroke="#111" stroke-width="0.9"/>
<line x1="281.3" y1="290.3" x2="288.3" y2="290.3" stroke="#111" stroke-width="0.9"/>
<line x1="281.3" y1="296.3" x2="288.3" y2="296.3" stroke="#111" stroke-width="0.9"/>
<text x="355.8" y="194.4" font-size="11.4" font-weight="bold" fill="#000" stroke="#000" stroke-width="0.3">F</text>
<text x="436.8" y="205.6" font-size="8.6" text-anchor="middle" textLength="88.9" lengthAdjust="spacingAndGlyphs" fill="#1a1a1a" stroke="#1a1a1a" stroke-width="0.3">Bone marrow total LSK</text>
<text x="436.3" y="216.2" font-size="8.6" text-anchor="middle" textLength="60.9" lengthAdjust="spacingAndGlyphs" fill="#1a1a1a" stroke="#1a1a1a" stroke-width="0.3">average − SEM.</text>
<line x1="404.1" y1="232" x2="404.1" y2="322.6" stroke="#111" stroke-width="1.25"/>
<line x1="401" y1="322" x2="468.8" y2="322" stroke="#111" stroke-width="1.25"/>
<line x1="400.6" y1="235" x2="404.1" y2="235" stroke="#111" stroke-width="1.0"/>
<text x="397.20000000000005" y="238.1" font-size="8.9" text-anchor="end" fill="#1a1a1a" stroke="#1a1a1a" stroke-width="0.3">0.10</text>
<line x1="400.6" y1="252.3" x2="404.1" y2="252.3" stroke="#111" stroke-width="1.0"/>
<text x="397.20000000000005" y="255.4" font-size="8.9" text-anchor="end" fill="#1a1a1a" stroke="#1a1a1a" stroke-width="0.3">0.08</text>
<line x1="400.6" y1="269.8" x2="404.1" y2="269.8" stroke="#111" stroke-width="1.0"/>
<text x="397.20000000000005" y="272.90000000000003" font-size="8.9" text-anchor="end" fill="#1a1a1a" stroke="#1a1a1a" stroke-width="0.3">0.06</text>
<line x1="400.6" y1="287.3" x2="404.1" y2="287.3" stroke="#111" stroke-width="1.0"/>
<text x="397.20000000000005" y="290.40000000000003" font-size="8.9" text-anchor="end" fill="#1a1a1a" stroke="#1a1a1a" stroke-width="0.3">0.04</text>
<line x1="400.6" y1="304.3" x2="404.1" y2="304.3" stroke="#111" stroke-width="1.0"/>
<text x="397.20000000000005" y="307.40000000000003" font-size="8.9" text-anchor="end" fill="#1a1a1a" stroke="#1a1a1a" stroke-width="0.3">0.02</text>
<line x1="400.6" y1="322" x2="404.1" y2="322" stroke="#111" stroke-width="1.0"/>
<text x="397.20000000000005" y="325.1" font-size="8.9" text-anchor="end" fill="#1a1a1a" stroke="#1a1a1a" stroke-width="0.3">0.00</text>
<line x1="420.3" y1="322" x2="420.3" y2="325.0" stroke="#111" stroke-width="1.0"/>
<line x1="451.8" y1="322" x2="451.8" y2="325.0" stroke="#111" stroke-width="1.0"/>
<path d="M420.6,241 L420.6,234 L452,234 L452,257" stroke="#111" stroke-width="0.9" fill="none"/>
<circle cx="436.2" cy="229.2" r="1.0" fill="#222"/>
<text x="443.3" y="229.6" font-size="8.8" fill="#1a1a1a" stroke="#1a1a1a" stroke-width="0.3" textLength="27.8" lengthAdjust="spacingAndGlyphs"><tspan font-style="italic">P</tspan> = .05</text>
<text transform="translate(373.5,277.2) rotate(-90) scale(0.66,1)" x="0" y="0" font-size="9.8" text-anchor="middle" textLength="95.76" lengthAdjust="spacing" fill="#1a1a1a" stroke="#1a1a1a" stroke-width="0.5">Total LSK (millions)</text>
<text x="409.5" y="336.8" font-size="8.6" textLength="20.9" lengthAdjust="spacingAndGlyphs" fill="#1a1a1a" stroke="#1a1a1a" stroke-width="0.3">CTRL</text>
<text x="435.7" y="336.8" font-size="8.6" font-style="italic" fill="#1a1a1a" stroke="#1a1a1a" stroke-width="0.3">Dnm2<tspan font-size="6.4" dy="-3.2" dx="0.3">het</tspan></text>
<rect x="414.0" y="242.3" width="2.8" height="2.8" fill="#1d2a6c"/>
<rect x="419.1" y="245.0" width="2.8" height="2.8" fill="#1d2a6c"/>
<rect x="419.1" y="254.5" width="2.8" height="2.8" fill="#1d2a6c"/>
<rect x="419.1" y="263.6" width="2.8" height="2.8" fill="#1d2a6c"/>
<rect x="419.1" y="266.2" width="2.8" height="2.8" fill="#1d2a6c"/>
<rect x="414.4" y="270.6" width="2.8" height="2.8" fill="#1d2a6c"/>
<rect x="419.1" y="269.6" width="2.8" height="2.8" fill="#1d2a6c"/>
<rect x="424.5" y="270.6" width="2.8" height="2.8" fill="#1d2a6c"/>
<rect x="416.1" y="273.1" width="2.8" height="2.8" fill="#1d2a6c"/>
<rect x="421.1" y="273.1" width="2.8" height="2.8" fill="#1d2a6c"/>
<rect x="413.6" y="282.0" width="2.8" height="2.8" fill="#1d2a6c"/>
<rect x="419.1" y="282.0" width="2.8" height="2.8" fill="#1d2a6c"/>
<rect x="424.5" y="282.0" width="2.8" height="2.8" fill="#1d2a6c"/>
<rect x="413.6" y="286.2" width="2.8" height="2.8" fill="#1d2a6c"/>
<rect x="419.1" y="287.9" width="2.8" height="2.8" fill="#1d2a6c"/>
<rect x="419.1" y="292.9" width="2.8" height="2.8" fill="#1d2a6c"/>
<rect x="419.1" y="296.6" width="2.8" height="2.8" fill="#1d2a6c"/>
<rect x="419.1" y="305.4" width="2.8" height="2.8" fill="#1d2a6c"/>
<circle cx="451.7" cy="262.5" r="1.5" fill="#8e1430"/>
<circle cx="451.7" cy="266.7" r="1.5" fill="#8e1430"/>
<circle cx="451.7" cy="270.9" r="1.5" fill="#8e1430"/>
<circle cx="446.7" cy="279.7" r="1.5" fill="#8e1430"/>
<circle cx="451.7" cy="278.0" r="1.5" fill="#8e1430"/>
<circle cx="457.0" cy="277.2" r="1.5" fill="#8e1430"/>
<circle cx="451.7" cy="281.6" r="1.5" fill="#8e1430"/>
<circle cx="457.0" cy="281.0" r="1.5" fill="#8e1430"/>
<circle cx="445.9" cy="290.0" r="1.5" fill="#8e1430"/>
<circle cx="451.7" cy="289.3" r="1.5" fill="#8e1430"/>
<circle cx="457.0" cy="291.8" r="1.5" fill="#8e1430"/>
<circle cx="445.9" cy="294.3" r="1.5" fill="#8e1430"/>
<circle cx="451.7" cy="294.3" r="1.5" fill="#8e1430"/>
<circle cx="457.0" cy="294.3" r="1.5" fill="#8e1430"/>
<circle cx="445.9" cy="297.5" r="1.5" fill="#8e1430"/>
<circle cx="451.7" cy="296.8" r="1.5" fill="#8e1430"/>
<circle cx="457.0" cy="298.4" r="1.5" fill="#8e1430"/>
<circle cx="451.7" cy="301.0" r="1.5" fill="#8e1430"/>
<circle cx="451.7" cy="310.0" r="1.5" fill="#8e1430"/>
<line x1="412.5" y1="276.2" x2="428.5" y2="276.2" stroke="#111" stroke-width="1.0"/>
<line x1="420.5" y1="272.5" x2="420.5" y2="280" stroke="#111" stroke-width="0.9"/>
<line x1="417.0" y1="272.5" x2="424.0" y2="272.5" stroke="#111" stroke-width="0.9"/>
<line x1="417.0" y1="280" x2="424.0" y2="280" stroke="#111" stroke-width="0.9"/>
<line x1="443.4" y1="286.4" x2="460.0" y2="286.4" stroke="#111" stroke-width="1.0"/>
<line x1="451.7" y1="283" x2="451.7" y2="289.8" stroke="#111" stroke-width="0.9"/>
<line x1="448.2" y1="283" x2="455.2" y2="283" stroke="#111" stroke-width="0.9"/>
<line x1="448.2" y1="289.8" x2="455.2" y2="289.8" stroke="#111" stroke-width="0.9"/>
<text x="49.4" y="366.9" font-size="11.4" font-weight="bold" fill="#000" stroke="#000" stroke-width="0.3">G</text>
<rect x="101.5" y="370" width="138.0" height="138.2" fill="none" stroke="#8a8a8a" stroke-width="0.9"/>
<line x1="101.5" y1="370" x2="101.5" y2="508.7" stroke="#222" stroke-width="1.0"/>
<line x1="101.0" y1="508.2" x2="239.5" y2="508.2" stroke="#222" stroke-width="1.0"/>
<line x1="98.3" y1="383" x2="101.5" y2="383" stroke="#111" stroke-width="1.1"/>
<text x="94.5" y="385.9" font-size="8.1" text-anchor="end" textLength="19.6" lengthAdjust="spacingAndGlyphs" fill="#1a1a1a" stroke="#1a1a1a" stroke-width="0.3">10e5</text>
<line x1="98.3" y1="416" x2="101.5" y2="416" stroke="#111" stroke-width="1.1"/>
<text x="94.5" y="418.9" font-size="8.1" text-anchor="end" textLength="19.6" lengthAdjust="spacingAndGlyphs" fill="#1a1a1a" stroke="#1a1a1a" stroke-width="0.3">10e4</text>
<line x1="98.3" y1="453.5" x2="101.5" y2="453.5" stroke="#111" stroke-width="1.1"/>
<text x="94.5" y="456.4" font-size="8.1" text-anchor="end" textLength="19.6" lengthAdjust="spacingAndGlyphs" fill="#1a1a1a" stroke="#1a1a1a" stroke-width="0.3">10e3</text>
<line x1="98.3" y1="476.5" x2="101.5" y2="476.5" stroke="#111" stroke-width="1.1"/>
<text x="94.5" y="479.4" font-size="8.1" text-anchor="end" fill="#1a1a1a" stroke="#1a1a1a" stroke-width="0.3">0</text>
<line x1="98.3" y1="499" x2="101.5" y2="499" stroke="#111" stroke-width="1.1"/>
<text x="94.5" y="501.9" font-size="8.1" text-anchor="end" textLength="24.7" lengthAdjust="spacingAndGlyphs" fill="#1a1a1a" stroke="#1a1a1a" stroke-width="0.3">−10e3</text>
<line x1="110.3" y1="508.2" x2="110.3" y2="511.4" stroke="#111" stroke-width="1.1"/>
<text x="117.1" y="521.6" font-size="8.1" text-anchor="end" textLength="24.7" lengthAdjust="spacingAndGlyphs" fill="#1a1a1a" stroke="#1a1a1a" stroke-width="0.3">−10e3</text>
<line x1="133" y1="508.2" x2="133" y2="511.4" stroke="#111" stroke-width="1.1"/>
<text x="133" y="521.6" font-size="8.1" text-anchor="middle" fill="#1a1a1a" stroke="#1a1a1a" stroke-width="0.3">0</text>
<line x1="155.8" y1="508.2" x2="155.8" y2="511.4" stroke="#111" stroke-width="1.1"/>
<text x="155.8" y="521.6" font-size="8.1" text-anchor="middle" textLength="18.9" lengthAdjust="spacingAndGlyphs" fill="#1a1a1a" stroke="#1a1a1a" stroke-width="0.3">10e3</text>
<line x1="192.9" y1="508.2" x2="192.9" y2="511.4" stroke="#111" stroke-width="1.1"/>
<text x="192.9" y="521.6" font-size="8.1" text-anchor="middle" textLength="18.9" lengthAdjust="spacingAndGlyphs" fill="#1a1a1a" stroke="#1a1a1a" stroke-width="0.3">10e4</text>
<line x1="226.3" y1="508.2" x2="226.3" y2="511.4" stroke="#111" stroke-width="1.1"/>
<text x="226.3" y="521.6" font-size="8.1" text-anchor="middle" textLength="18.9" lengthAdjust="spacingAndGlyphs" fill="#1a1a1a" stroke="#1a1a1a" stroke-width="0.3">10e5</text>
<line x1="99.9" y1="406.06601014308865" x2="101.5" y2="406.06601014308865" stroke="#333" stroke-width="0.6"/>
<line x1="99.9" y1="400.25499859425116" x2="101.5" y2="400.25499859425116" stroke="#333" stroke-width="0.6"/>
<line x1="99.9" y1="396.13202028617724" x2="101.5" y2="396.13202028617724" stroke="#333" stroke-width="0.6"/>
<line x1="99.9" y1="392.93398985691135" x2="101.5" y2="392.93398985691135" stroke="#333" stroke-width="0.6"/>
<line x1="99.9" y1="390.32100873733975" x2="101.5" y2="390.32100873733975" stroke="#333" stroke-width="0.6"/>
<line x1="99.9" y1="388.11176467952953" x2="101.5" y2="388.11176467952953" stroke="#333" stroke-width="0.6"/>
<line x1="99.9" y1="386.1980304292659" x2="101.5" y2="386.1980304292659" stroke="#333" stroke-width="0.6"/>
<line x1="99.9" y1="384.50999718850227" x2="101.5" y2="384.50999718850227" stroke="#333" stroke-width="0.6"/>
<line x1="99.9" y1="442.2113751626007" x2="101.5" y2="442.2113751626007" stroke="#333" stroke-width="0.6"/>
<line x1="99.9" y1="435.60795294801267" x2="101.5" y2="435.60795294801267" stroke="#333" stroke-width="0.6"/>
<line x1="99.9" y1="430.92275032520143" x2="101.5" y2="430.92275032520143" stroke="#333" stroke-width="0.6"/>
<line x1="99.9" y1="427.2886248373993" x2="101.5" y2="427.2886248373993" stroke="#333" stroke-width="0.6"/>
<line x1="99.9" y1="424.31932811061336" x2="101.5" y2="424.31932811061336" stroke="#333" stroke-width="0.6"/>
<line x1="99.9" y1="421.80882349946535" x2="101.5" y2="421.80882349946535" stroke="#333" stroke-width="0.6"/>
<line x1="99.9" y1="419.6341254878021" x2="101.5" y2="419.6341254878021" stroke="#333" stroke-width="0.6"/>
<line x1="99.9" y1="417.71590589602533" x2="101.5" y2="417.71590589602533" stroke="#333" stroke-width="0.6"/>
<line x1="99.9" y1="458.1" x2="101.5" y2="458.1" stroke="#333" stroke-width="0.6"/>
<line x1="99.9" y1="462.7" x2="101.5" y2="462.7" stroke="#333" stroke-width="0.6"/>
<line x1="99.9" y1="466.15" x2="101.5" y2="466.15" stroke="#333" stroke-width="0.6"/>
<line x1="99.9" y1="469.6" x2="101.5" y2="469.6" stroke="#333" stroke-width="0.6"/>
<line x1="99.9" y1="471.9" x2="101.5" y2="471.9" stroke="#333" stroke-width="0.6"/>
<line x1="99.9" y1="473.74" x2="101.5" y2="473.74" stroke="#333" stroke-width="0.6"/>
<line x1="99.9" y1="475.12" x2="101.5" y2="475.12" stroke="#333" stroke-width="0.6"/>
<line x1="99.9" y1="477.85" x2="101.5" y2="477.85" stroke="#333" stroke-width="0.6"/>
<line x1="99.9" y1="479.2" x2="101.5" y2="479.2" stroke="#333" stroke-width="0.6"/>
<line x1="99.9" y1="481.0" x2="101.5" y2="481.0" stroke="#333" stroke-width="0.6"/>
<line x1="99.9" y1="483.25" x2="101.5" y2="483.25" stroke="#333" stroke-width="0.6"/>
<line x1="99.9" y1="486.625" x2="101.5" y2="486.625" stroke="#333" stroke-width="0.6"/>
<line x1="99.9" y1="490.0" x2="101.5" y2="490.0" stroke="#333" stroke-width="0.6"/>
<line x1="99.9" y1="494.5" x2="101.5" y2="494.5" stroke="#333" stroke-width="0.6"/>
<line x1="166.9682128391337" y1="508.2" x2="166.9682128391337" y2="509.8" stroke="#333" stroke-width="0.6"/>
<line x1="173.50119855009947" y1="508.2" x2="173.50119855009947" y2="509.8" stroke="#333" stroke-width="0.6"/>
<line x1="178.13642567826741" y1="508.2" x2="178.13642567826741" y2="509.8" stroke="#333" stroke-width="0.6"/>
<line x1="181.7317871608663" y1="508.2" x2="181.7317871608663" y2="509.8" stroke="#333" stroke-width="0.6"/>
<line x1="184.66941138923318" y1="508.2" x2="184.66941138923318" y2="509.8" stroke="#333" stroke-width="0.6"/>
<line x1="187.15313728452892" y1="508.2" x2="187.15313728452892" y2="509.8" stroke="#333" stroke-width="0.6"/>
<line x1="189.30463851740112" y1="508.2" x2="189.30463851740112" y2="509.8" stroke="#333" stroke-width="0.6"/>
<line x1="191.20239710019897" y1="508.2" x2="191.20239710019897" y2="509.8" stroke="#333" stroke-width="0.6"/>
<line x1="202.95440185517697" y1="508.2" x2="202.95440185517697" y2="509.8" stroke="#333" stroke-width="0.6"/>
<line x1="208.83584990763674" y1="508.2" x2="208.83584990763674" y2="509.8" stroke="#333" stroke-width="0.6"/>
<line x1="213.00880371035396" y1="508.2" x2="213.00880371035396" y2="509.8" stroke="#333" stroke-width="0.6"/>
<line x1="216.24559814482305" y1="508.2" x2="216.24559814482305" y2="509.8" stroke="#333" stroke-width="0.6"/>
<line x1="218.8902517628137" y1="508.2" x2="218.8902517628137" y2="509.8" stroke="#333" stroke-width="0.6"/>
<line x1="221.1262745364762" y1="508.2" x2="221.1262745364762" y2="509.8" stroke="#333" stroke-width="0.6"/>
<line x1="223.06320556553092" y1="508.2" x2="223.06320556553092" y2="509.8" stroke="#333" stroke-width="0.6"/>
<line x1="224.77169981527345" y1="508.2" x2="224.77169981527345" y2="509.8" stroke="#333" stroke-width="0.6"/>
<line x1="134.824" y1="508.2" x2="134.824" y2="509.8" stroke="#333" stroke-width="0.6"/>
<line x1="136.648" y1="508.2" x2="136.648" y2="509.8" stroke="#333" stroke-width="0.6"/>
<line x1="138.7" y1="508.2" x2="138.7" y2="509.8" stroke="#333" stroke-width="0.6"/>
<line x1="140.98" y1="508.2" x2="140.98" y2="509.8" stroke="#333" stroke-width="0.6"/>
<line x1="143.26" y1="508.2" x2="143.26" y2="509.8" stroke="#333" stroke-width="0.6"/>
<line x1="145.54000000000002" y1="508.2" x2="145.54000000000002" y2="509.8" stroke="#333" stroke-width="0.6"/>
<line x1="147.82" y1="508.2" x2="147.82" y2="509.8" stroke="#333" stroke-width="0.6"/>
<line x1="150.10000000000002" y1="508.2" x2="150.10000000000002" y2="509.8" stroke="#333" stroke-width="0.6"/>
<line x1="152.38" y1="508.2" x2="152.38" y2="509.8" stroke="#333" stroke-width="0.6"/>
<line x1="154.204" y1="508.2" x2="154.204" y2="509.8" stroke="#333" stroke-width="0.6"/>
<line x1="111.889" y1="508.2" x2="111.889" y2="509.8" stroke="#333" stroke-width="0.6"/>
<line x1="113.705" y1="508.2" x2="113.705" y2="509.8" stroke="#333" stroke-width="0.6"/>
<line x1="115.975" y1="508.2" x2="115.975" y2="509.8" stroke="#333" stroke-width="0.6"/>
<line x1="118.245" y1="508.2" x2="118.245" y2="509.8" stroke="#333" stroke-width="0.6"/>
<line x1="120.515" y1="508.2" x2="120.515" y2="509.8" stroke="#333" stroke-width="0.6"/>
<line x1="122.785" y1="508.2" x2="122.785" y2="509.8" stroke="#333" stroke-width="0.6"/>
<line x1="125.055" y1="508.2" x2="125.055" y2="509.8" stroke="#333" stroke-width="0.6"/>
<line x1="127.325" y1="508.2" x2="127.325" y2="509.8" stroke="#333" stroke-width="0.6"/>
<line x1="129.368" y1="508.2" x2="129.368" y2="509.8" stroke="#333" stroke-width="0.6"/>
<line x1="131.184" y1="508.2" x2="131.184" y2="509.8" stroke="#333" stroke-width="0.6"/>
<line x1="236.35440185517697" y1="508.2" x2="236.35440185517697" y2="509.8" stroke="#333" stroke-width="0.6"/>
<rect x="98.8" y="474.6" width="3" height="4" fill="#111"/>
<rect x="130.8" y="508" width="4.5" height="3" fill="#111"/>
<text transform="translate(66.6,440.5) rotate(-90) scale(0.72,1)" x="0" y="0" font-size="9.0" text-anchor="middle" textLength="19.44" lengthAdjust="spacing" fill="#1a1a1a" stroke="#1a1a1a" stroke-width="0.45">c-Kit</text>
<text transform="translate(159.8,536.0) scale(0.58,1)" x="0" y="0" font-size="10.8" textLength="30.17" lengthAdjust="spacing" fill="#1a1a1a" stroke="#1a1a1a" stroke-width="0.45">Sca-1</text>
<path d="M164 371h1v1h-1zM146 373h1v1h-1zM160 383h1v1h-1zM144 384h1v1h-1zM170 384h1v1h-1zM151 385h1v1h-1zM148 386h1v1h-1zM145 387h1v1h-1zM136 391h1v1h-1zM150 391h1v1h-1zM145 392h1v1h-1zM162 392h1v1h-1zM136 393h1v1h-1zM138 393h3v1h-3zM138 394h1v1h-1zM141 394h1v1h-1zM156 394h1v1h-1zM138 395h1v1h-1zM132 396h1v1h-1zM134 396h1v1h-1zM163 396h1v1h-1zM202 396h1v1h-1zM137 397h1v1h-1zM149 397h2v1h-2zM152 397h1v1h-1zM154 397h1v1h-1zM156 397h1v1h-1zM162 397h1v1h-1zM132 398h1v1h-1zM140 398h1v1h-1zM142 398h2v1h-2zM149 398h1v1h-1zM162 398h1v1h-1zM199 398h1v1h-1zM135 399h3v1h-3zM140 399h1v1h-1zM145 399h2v1h-2zM150 399h1v1h-1zM157 399h1v1h-1zM181 399h1v1h-1zM199 399h1v1h-1zM132 400h1v1h-1zM135 400h1v1h-1zM137 400h1v1h-1zM140 400h3v1h-3zM147 400h1v1h-1zM149 400h1v1h-1zM151 400h2v1h-2zM154 400h1v1h-1zM156 400h1v1h-1zM162 400h1v1h-1zM178 400h1v1h-1zM186 400h2v1h-2zM189 400h1v1h-1zM134 401h2v1h-2zM137 401h3v1h-3zM143 401h2v1h-2zM146 401h3v1h-3zM151 401h1v1h-1zM182 401h1v1h-1zM189 401h1v1h-1zM198 401h1v1h-1zM134 402h5v1h-5zM140 402h2v1h-2zM146 402h1v1h-1zM148 402h1v1h-1zM158 402h1v1h-1zM169 402h1v1h-1zM172 402h1v1h-1zM174 402h1v1h-1zM192 402h1v1h-1zM195 402h1v1h-1zM199 402h1v1h-1zM132 403h2v1h-2zM135 403h2v1h-2zM138 403h6v1h-6zM145 403h5v1h-5zM151 403h1v1h-1zM153 403h1v1h-1zM155 403h1v1h-1zM157 403h1v1h-1zM164 403h1v1h-1zM172 403h2v1h-2zM131 404h1v1h-1zM133 404h4v1h-4zM139 404h5v1h-5zM145 404h2v1h-2zM148 404h5v1h-5zM156 404h1v1h-1zM159 404h1v1h-1zM161 404h2v1h-2zM170 404h1v1h-1zM194 404h1v1h-1zM133 405h1v1h-1zM136 405h3v1h-3zM141 405h5v1h-5zM147 405h1v1h-1zM149 405h1v1h-1zM153 405h1v1h-1zM171 405h1v1h-1zM186 405h1v1h-1zM198 405h1v1h-1zM201 405h2v1h-2zM131 406h1v1h-1zM133 406h1v1h-1zM136 406h2v1h-2zM139 406h1v1h-1zM141 406h1v1h-1zM143 406h4v1h-4zM148 406h1v1h-1zM150 406h2v1h-2zM154 406h1v1h-1zM156 406h1v1h-1zM159 406h1v1h-1zM163 406h2v1h-2zM167 406h1v1h-1zM169 406h4v1h-4zM182 406h1v1h-1zM187 406h3v1h-3zM193 406h1v1h-1zM197 406h1v1h-1zM132 407h5v1h-5zM140 407h2v1h-2zM143 407h4v1h-4zM148 407h3v1h-3zM155 407h2v1h-2zM161 407h2v1h-2zM164 407h1v1h-1zM166 407h1v1h-1zM176 407h1v1h-1zM178 407h1v1h-1zM183 407h1v1h-1zM186 407h1v1h-1zM189 407h2v1h-2zM193 407h1v1h-1zM133 408h2v1h-2zM140 408h2v1h-2zM143 408h6v1h-6zM150 408h1v1h-1zM152 408h2v1h-2zM157 408h1v1h-1zM159 408h1v1h-1zM167 408h1v1h-1zM179 408h1v1h-1zM182 408h1v1h-1zM196 408h1v1h-1zM205 408h1v1h-1zM132 409h1v1h-1zM134 409h1v1h-1zM136 409h1v1h-1zM141 409h2v1h-2zM144 409h8v1h-8zM154 409h1v1h-1zM156 409h2v1h-2zM160 409h2v1h-2zM163 409h1v1h-1zM179 409h1v1h-1zM184 409h1v1h-1zM188 409h1v1h-1zM197 409h1v1h-1zM203 409h1v1h-1zM206 409h1v1h-1zM132 410h3v1h-3zM142 410h2v1h-2zM146 410h2v1h-2zM151 410h1v1h-1zM153 410h1v1h-1zM155 410h1v1h-1zM158 410h2v1h-2zM168 410h1v1h-1zM172 410h1v1h-1zM179 410h1v1h-1zM182 410h1v1h-1zM185 410h1v1h-1zM205 410h1v1h-1zM130 411h1v1h-1zM132 411h1v1h-1zM147 411h6v1h-6zM154 411h3v1h-3zM158 411h1v1h-1zM160 411h2v1h-2zM168 411h1v1h-1zM172 411h2v1h-2zM175 411h1v1h-1zM177 411h5v1h-5zM184 411h1v1h-1zM188 411h1v1h-1zM133 412h1v1h-1zM145 412h2v1h-2zM148 412h6v1h-6zM155 412h3v1h-3zM161 412h2v1h-2zM168 412h1v1h-1zM170 412h2v1h-2zM173 412h2v1h-2zM176 412h1v1h-1zM178 412h1v1h-1zM188 412h1v1h-1zM190 412h1v1h-1zM195 412h1v1h-1zM198 412h1v1h-1zM201 412h1v1h-1zM132 413h2v1h-2zM145 413h2v1h-2zM148 413h2v1h-2zM151 413h5v1h-5zM157 413h2v1h-2zM165 413h1v1h-1zM171 413h1v1h-1zM173 413h1v1h-1zM175 413h1v1h-1zM179 413h1v1h-1zM181 413h1v1h-1zM133 414h2v1h-2zM147 414h5v1h-5zM154 414h3v1h-3zM163 414h1v1h-1zM168 414h1v1h-1zM173 414h1v1h-1zM177 414h1v1h-1zM184 414h1v1h-1zM194 414h2v1h-2zM197 414h1v1h-1zM200 414h1v1h-1zM207 414h1v1h-1zM133 415h1v1h-1zM146 415h8v1h-8zM155 415h2v1h-2zM158 415h1v1h-1zM162 415h1v1h-1zM164 415h1v1h-1zM168 415h1v1h-1zM172 415h1v1h-1zM175 415h1v1h-1zM190 415h1v1h-1zM194 415h1v1h-1zM197 415h2v1h-2zM133 416h1v1h-1zM148 416h2v1h-2zM152 416h2v1h-2zM156 416h2v1h-2zM160 416h1v1h-1zM163 416h2v1h-2zM168 416h1v1h-1zM177 416h1v1h-1zM179 416h1v1h-1zM182 416h4v1h-4zM190 416h1v1h-1zM194 416h1v1h-1zM130 417h1v1h-1zM133 417h1v1h-1zM147 417h1v1h-1zM149 417h3v1h-3zM153 417h1v1h-1zM155 417h6v1h-6zM166 417h1v1h-1zM177 417h2v1h-2zM183 417h1v1h-1zM203 417h1v1h-1zM133 418h1v1h-1zM149 418h2v1h-2zM152 418h2v1h-2zM155 418h3v1h-3zM160 418h2v1h-2zM163 418h1v1h-1zM170 418h1v1h-1zM175 418h2v1h-2zM185 418h2v1h-2zM194 418h1v1h-1zM132 419h2v1h-2zM150 419h1v1h-1zM152 419h1v1h-1zM154 419h3v1h-3zM158 419h2v1h-2zM161 419h3v1h-3zM168 419h1v1h-1zM178 419h1v1h-1zM182 419h1v1h-1zM184 419h1v1h-1zM189 419h1v1h-1zM194 419h1v1h-1zM208 419h1v1h-1zM131 420h3v1h-3zM150 420h2v1h-2zM153 420h1v1h-1zM155 420h2v1h-2zM159 420h2v1h-2zM163 420h1v1h-1zM171 420h1v1h-1zM176 420h1v1h-1zM183 420h1v1h-1zM194 420h1v1h-1zM200 420h1v1h-1zM133 421h1v1h-1zM149 421h2v1h-2zM152 421h7v1h-7zM164 421h1v1h-1zM172 421h1v1h-1zM176 421h1v1h-1zM186 421h1v1h-1zM188 421h1v1h-1zM131 422h1v1h-1zM133 422h1v1h-1zM150 422h2v1h-2zM153 422h7v1h-7zM161 422h1v1h-1zM165 422h1v1h-1zM177 422h1v1h-1zM191 422h1v1h-1zM133 423h1v1h-1zM149 423h1v1h-1zM151 423h2v1h-2zM154 423h2v1h-2zM157 423h1v1h-1zM159 423h2v1h-2zM162 423h1v1h-1zM132 424h1v1h-1zM149 424h2v1h-2zM153 424h3v1h-3zM158 424h3v1h-3zM162 424h2v1h-2zM165 424h1v1h-1zM167 424h1v1h-1zM133 425h1v1h-1zM150 425h2v1h-2zM154 425h5v1h-5zM160 425h2v1h-2zM166 425h2v1h-2zM219 425h1v1h-1zM133 426h2v1h-2zM151 426h1v1h-1zM153 426h1v1h-1zM155 426h2v1h-2zM158 426h3v1h-3zM162 426h1v1h-1zM133 427h2v1h-2zM151 427h5v1h-5zM159 427h4v1h-4zM167 427h1v1h-1zM181 427h1v1h-1zM220 427h1v1h-1zM133 428h2v1h-2zM153 428h6v1h-6zM160 428h1v1h-1zM163 428h1v1h-1zM165 428h1v1h-1zM134 429h1v1h-1zM152 429h2v1h-2zM155 429h1v1h-1zM157 429h4v1h-4zM164 429h1v1h-1zM134 430h1v1h-1zM152 430h1v1h-1zM154 430h7v1h-7zM164 430h5v1h-5zM180 430h1v1h-1zM133 431h2v1h-2zM152 431h3v1h-3zM156 431h3v1h-3zM161 431h1v1h-1zM165 431h1v1h-1zM135 432h1v1h-1zM152 432h1v1h-1zM155 432h5v1h-5zM161 432h1v1h-1zM163 432h1v1h-1zM165 432h1v1h-1zM132 433h1v1h-1zM134 433h2v1h-2zM153 433h2v1h-2zM156 433h3v1h-3zM162 433h2v1h-2zM134 434h1v1h-1zM151 434h1v1h-1zM153 434h4v1h-4zM158 434h3v1h-3zM162 434h2v1h-2zM173 434h1v1h-1zM194 434h1v1h-1zM151 435h5v1h-5zM157 435h6v1h-6zM172 435h1v1h-1zM174 435h1v1h-1zM151 436h1v1h-1zM153 436h5v1h-5zM159 436h2v1h-2zM163 436h1v1h-1zM165 436h1v1h-1zM169 436h2v1h-2zM180 436h1v1h-1zM131 437h1v1h-1zM135 437h1v1h-1zM152 437h1v1h-1zM156 437h6v1h-6zM170 437h1v1h-1zM173 437h2v1h-2zM135 438h2v1h-2zM149 438h2v1h-2zM152 438h1v1h-1zM154 438h4v1h-4zM160 438h2v1h-2zM165 438h2v1h-2zM170 438h1v1h-1zM181 438h1v1h-1zM184 438h1v1h-1zM134 439h2v1h-2zM151 439h1v1h-1zM153 439h4v1h-4zM158 439h4v1h-4zM166 439h1v1h-1zM172 439h1v1h-1zM153 440h5v1h-5zM159 440h2v1h-2zM162 440h1v1h-1zM166 440h1v1h-1zM170 440h1v1h-1zM172 440h1v1h-1zM179 440h1v1h-1zM151 441h4v1h-4zM156 441h5v1h-5zM162 441h3v1h-3zM166 441h1v1h-1zM168 441h2v1h-2zM180 441h1v1h-1zM201 441h1v1h-1zM208 441h1v1h-1zM135 442h1v1h-1zM151 442h1v1h-1zM153 442h10v1h-10zM165 442h1v1h-1zM167 442h1v1h-1zM171 442h1v1h-1zM175 442h2v1h-2zM179 442h1v1h-1zM182 442h1v1h-1zM190 442h1v1h-1zM192 442h1v1h-1zM199 442h1v1h-1zM134 443h2v1h-2zM154 443h10v1h-10zM168 443h2v1h-2zM134 444h1v1h-1zM151 444h3v1h-3zM155 444h1v1h-1zM158 444h3v1h-3zM174 444h1v1h-1zM179 444h2v1h-2zM185 444h1v1h-1zM188 444h2v1h-2zM202 444h1v1h-1zM204 444h1v1h-1zM134 445h2v1h-2zM151 445h13v1h-13zM165 445h3v1h-3zM169 445h1v1h-1zM171 445h2v1h-2zM178 445h1v1h-1zM188 445h1v1h-1zM201 445h1v1h-1zM212 445h1v1h-1zM133 446h1v1h-1zM135 446h1v1h-1zM152 446h3v1h-3zM157 446h4v1h-4zM162 446h2v1h-2zM166 446h1v1h-1zM172 446h1v1h-1zM176 446h1v1h-1zM181 446h1v1h-1zM193 446h1v1h-1zM224 446h1v1h-1zM134 447h1v1h-1zM150 447h1v1h-1zM153 447h8v1h-8zM162 447h2v1h-2zM165 447h1v1h-1zM167 447h1v1h-1zM169 447h1v1h-1zM173 447h1v1h-1zM175 447h2v1h-2zM179 447h1v1h-1zM186 447h1v1h-1zM193 447h1v1h-1zM195 447h1v1h-1zM207 447h1v1h-1zM133 448h3v1h-3zM151 448h9v1h-9zM161 448h4v1h-4zM166 448h1v1h-1zM169 448h1v1h-1zM172 448h1v1h-1zM174 448h1v1h-1zM180 448h1v1h-1zM189 448h1v1h-1zM210 448h1v1h-1zM231 448h1v1h-1zM134 449h2v1h-2zM152 449h1v1h-1zM154 449h1v1h-1zM157 449h2v1h-2zM160 449h5v1h-5zM168 449h3v1h-3zM172 449h2v1h-2zM187 449h1v1h-1zM192 449h1v1h-1zM199 449h1v1h-1zM201 449h1v1h-1zM225 449h1v1h-1zM133 450h2v1h-2zM153 450h1v1h-1zM156 450h2v1h-2zM159 450h6v1h-6zM167 450h4v1h-4zM172 450h1v1h-1zM177 450h2v1h-2zM181 450h1v1h-1zM184 450h2v1h-2zM191 450h1v1h-1zM223 450h1v1h-1zM134 451h2v1h-2zM154 451h1v1h-1zM156 451h3v1h-3zM161 451h1v1h-1zM163 451h4v1h-4zM171 451h3v1h-3zM176 451h1v1h-1zM185 451h2v1h-2zM196 451h2v1h-2zM212 451h1v1h-1zM134 452h2v1h-2zM152 452h5v1h-5zM161 452h4v1h-4zM166 452h3v1h-3zM172 452h1v1h-1zM174 452h1v1h-1zM180 452h1v1h-1zM187 452h2v1h-2zM198 452h1v1h-1zM206 452h2v1h-2zM133 453h3v1h-3zM151 453h1v1h-1zM154 453h6v1h-6zM162 453h1v1h-1zM164 453h3v1h-3zM169 453h3v1h-3zM175 453h2v1h-2zM180 453h1v1h-1zM182 453h1v1h-1zM187 453h3v1h-3zM193 453h2v1h-2zM196 453h1v1h-1zM133 454h2v1h-2zM149 454h1v1h-1zM152 454h6v1h-6zM160 454h2v1h-2zM163 454h1v1h-1zM165 454h1v1h-1zM167 454h3v1h-3zM171 454h1v1h-1zM174 454h3v1h-3zM179 454h1v1h-1zM186 454h1v1h-1zM192 454h1v1h-1zM195 454h1v1h-1zM227 454h1v1h-1zM132 455h1v1h-1zM134 455h1v1h-1zM153 455h3v1h-3zM159 455h3v1h-3zM163 455h9v1h-9zM174 455h1v1h-1zM177 455h2v1h-2zM187 455h1v1h-1zM190 455h1v1h-1zM192 455h1v1h-1zM207 455h1v1h-1zM220 455h1v1h-1zM132 456h1v1h-1zM134 456h1v1h-1zM151 456h1v1h-1zM153 456h2v1h-2zM156 456h2v1h-2zM159 456h4v1h-4zM164 456h2v1h-2zM167 456h1v1h-1zM169 456h2v1h-2zM172 456h2v1h-2zM175 456h1v1h-1zM179 456h2v1h-2zM184 456h1v1h-1zM188 456h1v1h-1zM191 456h2v1h-2zM196 456h2v1h-2zM208 456h1v1h-1zM211 456h1v1h-1zM216 456h2v1h-2zM132 457h1v1h-1zM150 457h2v1h-2zM153 457h1v1h-1zM156 457h1v1h-1zM159 457h9v1h-9zM169 457h1v1h-1zM171 457h1v1h-1zM175 457h1v1h-1zM177 457h2v1h-2zM181 457h1v1h-1zM186 457h2v1h-2zM214 457h1v1h-1zM130 458h1v1h-1zM152 458h4v1h-4zM158 458h2v1h-2zM161 458h4v1h-4zM168 458h4v1h-4zM173 458h2v1h-2zM179 458h1v1h-1zM181 458h1v1h-1zM186 458h1v1h-1zM192 458h1v1h-1zM197 458h2v1h-2zM200 458h1v1h-1zM212 458h1v1h-1zM220 458h1v1h-1zM225 458h1v1h-1zM132 459h1v1h-1zM150 459h3v1h-3zM154 459h6v1h-6zM162 459h6v1h-6zM169 459h4v1h-4zM175 459h1v1h-1zM177 459h1v1h-1zM180 459h1v1h-1zM185 459h2v1h-2zM204 459h1v1h-1zM208 459h1v1h-1zM210 459h1v1h-1zM133 460h1v1h-1zM150 460h13v1h-13zM164 460h4v1h-4zM174 460h2v1h-2zM177 460h2v1h-2zM181 460h1v1h-1zM183 460h1v1h-1zM196 460h1v1h-1zM202 460h1v1h-1zM223 460h1v1h-1zM132 461h2v1h-2zM151 461h1v1h-1zM154 461h6v1h-6zM161 461h1v1h-1zM163 461h2v1h-2zM166 461h5v1h-5zM176 461h1v1h-1zM181 461h6v1h-6zM193 461h1v1h-1zM204 461h1v1h-1zM208 461h1v1h-1zM132 462h1v1h-1zM150 462h1v1h-1zM153 462h1v1h-1zM156 462h5v1h-5zM162 462h1v1h-1zM164 462h2v1h-2zM167 462h3v1h-3zM171 462h2v1h-2zM174 462h1v1h-1zM176 462h1v1h-1zM190 462h1v1h-1zM195 462h1v1h-1zM198 462h1v1h-1zM207 462h1v1h-1zM212 462h1v1h-1zM128 463h1v1h-1zM132 463h1v1h-1zM152 463h4v1h-4zM157 463h4v1h-4zM162 463h6v1h-6zM169 463h1v1h-1zM171 463h2v1h-2zM174 463h1v1h-1zM179 463h3v1h-3zM185 463h1v1h-1zM188 463h1v1h-1zM193 463h1v1h-1zM196 463h2v1h-2zM202 463h1v1h-1zM204 463h1v1h-1zM206 463h2v1h-2zM210 463h1v1h-1zM214 463h1v1h-1zM131 464h2v1h-2zM149 464h1v1h-1zM153 464h1v1h-1zM155 464h4v1h-4zM160 464h9v1h-9zM171 464h1v1h-1zM174 464h2v1h-2zM177 464h1v1h-1zM181 464h1v1h-1zM184 464h1v1h-1zM189 464h1v1h-1zM195 464h1v1h-1zM205 464h1v1h-1zM223 464h1v1h-1zM132 465h1v1h-1zM149 465h1v1h-1zM151 465h3v1h-3zM155 465h4v1h-4zM160 465h4v1h-4zM165 465h1v1h-1zM167 465h1v1h-1zM169 465h3v1h-3zM173 465h1v1h-1zM175 465h2v1h-2zM179 465h1v1h-1zM184 465h2v1h-2zM196 465h1v1h-1zM131 466h2v1h-2zM150 466h6v1h-6zM157 466h7v1h-7zM165 466h6v1h-6zM172 466h3v1h-3zM179 466h1v1h-1zM182 466h1v1h-1zM186 466h1v1h-1zM188 466h1v1h-1zM190 466h1v1h-1zM193 466h1v1h-1zM195 466h1v1h-1zM200 466h1v1h-1zM204 466h1v1h-1zM206 466h1v1h-1zM218 466h1v1h-1zM220 466h1v1h-1zM151 467h9v1h-9zM162 467h1v1h-1zM164 467h3v1h-3zM168 467h2v1h-2zM172 467h4v1h-4zM179 467h1v1h-1zM182 467h1v1h-1zM186 467h1v1h-1zM188 467h1v1h-1zM191 467h1v1h-1zM195 467h2v1h-2zM211 467h1v1h-1zM131 468h2v1h-2zM149 468h2v1h-2zM153 468h6v1h-6zM160 468h1v1h-1zM163 468h3v1h-3zM168 468h5v1h-5zM174 468h2v1h-2zM177 468h1v1h-1zM182 468h3v1h-3zM186 468h1v1h-1zM194 468h1v1h-1zM199 468h1v1h-1zM205 468h1v1h-1zM210 468h1v1h-1zM213 468h1v1h-1zM220 468h1v1h-1zM131 469h2v1h-2zM150 469h8v1h-8zM159 469h1v1h-1zM161 469h4v1h-4zM166 469h1v1h-1zM173 469h1v1h-1zM175 469h2v1h-2zM181 469h1v1h-1zM192 469h1v1h-1zM196 469h1v1h-1zM199 469h2v1h-2zM212 469h1v1h-1zM218 469h1v1h-1zM131 470h2v1h-2zM148 470h1v1h-1zM150 470h1v1h-1zM152 470h8v1h-8zM161 470h1v1h-1zM168 470h2v1h-2zM174 470h1v1h-1zM176 470h1v1h-1zM179 470h1v1h-1zM187 470h1v1h-1zM191 470h2v1h-2zM199 470h3v1h-3zM203 470h2v1h-2zM208 470h1v1h-1zM210 470h1v1h-1zM212 470h2v1h-2zM130 471h1v1h-1zM132 471h1v1h-1zM148 471h1v1h-1zM151 471h5v1h-5zM157 471h1v1h-1zM159 471h1v1h-1zM162 471h2v1h-2zM165 471h1v1h-1zM170 471h2v1h-2zM176 471h1v1h-1zM181 471h1v1h-1zM186 471h1v1h-1zM194 471h1v1h-1zM196 471h3v1h-3zM201 471h1v1h-1zM211 471h1v1h-1zM226 471h1v1h-1zM229 471h1v1h-1zM235 471h1v1h-1zM150 472h2v1h-2zM153 472h2v1h-2zM158 472h4v1h-4zM163 472h3v1h-3zM167 472h1v1h-1zM169 472h1v1h-1zM174 472h1v1h-1zM177 472h2v1h-2zM182 472h1v1h-1zM189 472h1v1h-1zM193 472h1v1h-1zM195 472h1v1h-1zM199 472h2v1h-2zM203 472h1v1h-1zM206 472h1v1h-1zM132 473h1v1h-1zM149 473h2v1h-2zM152 473h8v1h-8zM164 473h1v1h-1zM166 473h2v1h-2zM169 473h1v1h-1zM174 473h3v1h-3zM179 473h3v1h-3zM187 473h1v1h-1zM191 473h2v1h-2zM195 473h2v1h-2zM210 473h1v1h-1zM222 473h2v1h-2zM131 474h2v1h-2zM148 474h2v1h-2zM151 474h2v1h-2zM154 474h1v1h-1zM157 474h3v1h-3zM161 474h5v1h-5zM173 474h1v1h-1zM189 474h1v1h-1zM191 474h1v1h-1zM195 474h1v1h-1zM198 474h1v1h-1zM213 474h1v1h-1zM147 475h4v1h-4zM152 475h1v1h-1zM154 475h6v1h-6zM161 475h2v1h-2zM164 475h1v1h-1zM168 475h1v1h-1zM171 475h1v1h-1zM182 475h1v1h-1zM184 475h1v1h-1zM189 475h1v1h-1zM193 475h1v1h-1zM203 475h1v1h-1zM208 475h1v1h-1zM213 475h1v1h-1zM132 476h1v1h-1zM146 476h4v1h-4zM151 476h8v1h-8zM161 476h2v1h-2zM172 476h1v1h-1zM178 476h1v1h-1zM180 476h1v1h-1zM185 476h2v1h-2zM189 476h2v1h-2zM200 476h3v1h-3zM216 476h1v1h-1zM132 477h1v1h-1zM146 477h4v1h-4zM151 477h1v1h-1zM154 477h5v1h-5zM160 477h1v1h-1zM165 477h1v1h-1zM176 477h1v1h-1zM184 477h1v1h-1zM186 477h1v1h-1zM188 477h1v1h-1zM191 477h1v1h-1zM195 477h1v1h-1zM199 477h2v1h-2zM203 477h1v1h-1zM131 478h2v1h-2zM146 478h13v1h-13zM160 478h1v1h-1zM162 478h2v1h-2zM165 478h1v1h-1zM168 478h1v1h-1zM172 478h1v1h-1zM175 478h1v1h-1zM182 478h1v1h-1zM184 478h1v1h-1zM191 478h1v1h-1zM193 478h1v1h-1zM201 478h1v1h-1zM206 478h1v1h-1zM209 478h1v1h-1zM212 478h1v1h-1zM222 478h1v1h-1zM133 479h1v1h-1zM146 479h9v1h-9zM156 479h2v1h-2zM160 479h2v1h-2zM173 479h2v1h-2zM176 479h2v1h-2zM181 479h1v1h-1zM183 479h2v1h-2zM187 479h1v1h-1zM196 479h2v1h-2zM209 479h2v1h-2zM133 480h2v1h-2zM144 480h8v1h-8zM153 480h3v1h-3zM158 480h1v1h-1zM160 480h1v1h-1zM162 480h1v1h-1zM164 480h1v1h-1zM166 480h2v1h-2zM171 480h1v1h-1zM182 480h1v1h-1zM190 480h1v1h-1zM192 480h1v1h-1zM194 480h2v1h-2zM197 480h2v1h-2zM202 480h1v1h-1zM204 480h1v1h-1zM133 481h1v1h-1zM135 481h1v1h-1zM142 481h1v1h-1zM144 481h1v1h-1zM146 481h2v1h-2zM150 481h3v1h-3zM155 481h2v1h-2zM159 481h2v1h-2zM171 481h2v1h-2zM175 481h1v1h-1zM180 481h1v1h-1zM184 481h1v1h-1zM203 481h1v1h-1zM221 481h1v1h-1zM134 482h2v1h-2zM144 482h6v1h-6zM151 482h2v1h-2zM154 482h1v1h-1zM158 482h1v1h-1zM162 482h1v1h-1zM172 482h1v1h-1zM179 482h1v1h-1zM189 482h1v1h-1zM217 482h1v1h-1zM134 483h3v1h-3zM140 483h1v1h-1zM143 483h7v1h-7zM151 483h3v1h-3zM157 483h2v1h-2zM160 483h2v1h-2zM163 483h2v1h-2zM166 483h1v1h-1zM169 483h1v1h-1zM172 483h1v1h-1zM174 483h2v1h-2zM184 483h1v1h-1zM189 483h1v1h-1zM134 484h4v1h-4zM139 484h7v1h-7zM147 484h2v1h-2zM150 484h1v1h-1zM153 484h1v1h-1zM157 484h1v1h-1zM164 484h1v1h-1zM170 484h1v1h-1zM135 485h1v1h-1zM137 485h2v1h-2zM142 485h1v1h-1zM145 485h3v1h-3zM159 485h1v1h-1zM169 485h1v1h-1zM135 486h1v1h-1zM137 486h1v1h-1zM139 486h3v1h-3zM143 486h3v1h-3zM147 486h6v1h-6zM159 486h1v1h-1zM162 486h1v1h-1zM165 486h1v1h-1zM174 486h1v1h-1zM217 486h1v1h-1zM135 487h3v1h-3zM139 487h5v1h-5zM147 487h2v1h-2zM151 487h1v1h-1zM156 487h1v1h-1zM160 487h1v1h-1zM167 487h1v1h-1zM198 487h1v1h-1zM138 488h6v1h-6zM145 488h1v1h-1zM147 488h3v1h-3zM160 488h4v1h-4zM168 488h1v1h-1zM135 489h5v1h-5zM141 489h4v1h-4zM147 489h1v1h-1zM174 489h1v1h-1zM234 489h1v1h-1zM136 490h3v1h-3zM141 490h1v1h-1zM143 490h2v1h-2zM146 490h2v1h-2zM158 490h1v1h-1zM190 490h1v1h-1zM134 491h1v1h-1zM138 491h1v1h-1zM137 492h1v1h-1zM139 492h1v1h-1zM142 492h1v1h-1zM144 492h1v1h-1zM156 492h1v1h-1zM210 492h1v1h-1zM134 493h1v1h-1zM136 493h1v1h-1zM140 493h1v1h-1zM145 493h1v1h-1zM148 493h7v1h-7zM156 493h1v1h-1zM159 493h1v1h-1zM135 494h1v1h-1zM137 494h1v1h-1zM146 494h1v1h-1zM152 494h2v1h-2zM157 494h1v1h-1zM172 494h1v1h-1zM140 495h1v1h-1zM143 495h1v1h-1zM146 495h1v1h-1zM149 495h1v1h-1zM185 495h1v1h-1zM135 496h1v1h-1zM140 496h1v1h-1zM150 496h1v1h-1zM138 497h1v1h-1zM143 497h1v1h-1zM146 497h1v1h-1zM166 497h1v1h-1zM169 497h1v1h-1zM137 498h1v1h-1zM146 498h1v1h-1zM152 498h1v1h-1zM156 498h1v1h-1zM161 498h1v1h-1zM148 499h1v1h-1zM151 499h1v1h-1zM153 499h1v1h-1zM140 500h1v1h-1zM161 500h2v1h-2zM143 501h1v1h-1zM134 502h1v1h-1zM145 502h1v1h-1zM155 502h1v1h-1zM157 502h1v1h-1zM140 503h1v1h-1zM137 504h2v1h-2zM148 505h1v1h-1zM138 506h1v1h-1zM140 506h2v1h-2z" fill="#7d86cc"/>
<path d="M139 405h1v1h-1zM138 406h1v1h-1zM137 407h3v1h-3zM135 408h5v1h-5zM135 409h1v1h-1zM137 409h4v1h-4zM135 410h1v1h-1zM138 410h1v1h-1zM140 410h2v1h-2zM134 411h2v1h-2zM140 411h4v1h-4zM145 411h1v1h-1zM134 412h2v1h-2zM140 412h5v1h-5zM134 413h1v1h-1zM143 413h2v1h-2zM143 414h4v1h-4zM134 415h1v1h-1zM145 415h1v1h-1zM134 416h1v1h-1zM144 416h3v1h-3zM134 417h1v1h-1zM143 417h1v1h-1zM146 417h1v1h-1zM134 418h1v1h-1zM144 418h5v1h-5zM134 419h1v1h-1zM145 419h4v1h-4zM134 420h1v1h-1zM145 420h1v1h-1zM147 420h3v1h-3zM134 421h1v1h-1zM146 421h3v1h-3zM134 422h1v1h-1zM145 422h5v1h-5zM134 423h1v1h-1zM146 423h3v1h-3zM150 423h1v1h-1zM134 424h1v1h-1zM145 424h4v1h-4zM146 425h4v1h-4zM147 426h4v1h-4zM152 426h1v1h-1zM146 427h5v1h-5zM135 428h1v1h-1zM146 428h6v1h-6zM135 429h1v1h-1zM147 429h5v1h-5zM135 430h1v1h-1zM147 430h2v1h-2zM150 430h2v1h-2zM153 430h1v1h-1zM135 431h1v1h-1zM147 431h5v1h-5zM147 432h5v1h-5zM146 433h7v1h-7zM135 434h2v1h-2zM147 434h4v1h-4zM152 434h1v1h-1zM136 435h2v1h-2zM147 435h4v1h-4zM136 436h1v1h-1zM147 436h4v1h-4zM136 437h2v1h-2zM146 437h6v1h-6zM153 437h1v1h-1zM146 438h1v1h-1zM148 438h1v1h-1zM136 439h1v1h-1zM147 439h4v1h-4zM152 439h1v1h-1zM136 440h2v1h-2zM148 440h5v1h-5zM136 441h1v1h-1zM146 441h1v1h-1zM148 441h3v1h-3zM136 442h1v1h-1zM146 442h1v1h-1zM148 442h3v1h-3zM136 443h1v1h-1zM145 443h1v1h-1zM147 443h2v1h-2zM150 443h4v1h-4zM136 444h1v1h-1zM149 444h2v1h-2zM136 445h1v1h-1zM148 445h3v1h-3zM136 446h1v1h-1zM147 446h5v1h-5zM155 446h1v1h-1zM135 447h2v1h-2zM148 447h2v1h-2zM151 447h2v1h-2zM146 448h1v1h-1zM148 448h3v1h-3zM136 449h1v1h-1zM147 449h5v1h-5zM136 450h1v1h-1zM146 450h7v1h-7zM148 451h2v1h-2zM151 451h2v1h-2zM146 452h1v1h-1zM148 452h3v1h-3zM136 453h2v1h-2zM146 453h5v1h-5zM152 453h2v1h-2zM135 454h2v1h-2zM147 454h2v1h-2zM150 454h2v1h-2zM135 455h2v1h-2zM146 455h5v1h-5zM152 455h1v1h-1zM144 456h7v1h-7zM152 456h1v1h-1zM134 457h1v1h-1zM147 457h3v1h-3zM152 457h1v1h-1zM154 457h1v1h-1zM134 458h1v1h-1zM147 458h3v1h-3zM151 458h1v1h-1zM133 459h1v1h-1zM145 459h5v1h-5zM134 460h1v1h-1zM147 460h3v1h-3zM147 461h4v1h-4zM152 461h1v1h-1zM133 462h1v1h-1zM148 462h2v1h-2zM151 462h1v1h-1zM147 463h3v1h-3zM151 463h1v1h-1zM133 464h1v1h-1zM145 464h1v1h-1zM147 464h2v1h-2zM150 464h1v1h-1zM152 464h1v1h-1zM133 465h1v1h-1zM147 465h2v1h-2zM150 465h1v1h-1zM133 466h1v1h-1zM147 466h3v1h-3zM147 467h3v1h-3zM147 468h2v1h-2zM133 469h1v1h-1zM147 469h2v1h-2zM146 470h2v1h-2zM149 470h1v1h-1zM133 471h1v1h-1zM146 471h2v1h-2zM149 471h1v1h-1zM133 472h1v1h-1zM145 472h1v1h-1zM147 472h2v1h-2zM133 473h1v1h-1zM146 473h2v1h-2zM133 474h1v1h-1zM145 474h3v1h-3zM133 475h1v1h-1zM146 475h1v1h-1zM133 476h2v1h-2zM145 476h1v1h-1zM133 477h2v1h-2zM144 477h2v1h-2zM134 478h2v1h-2zM144 478h2v1h-2zM134 479h1v1h-1zM144 479h2v1h-2zM135 480h1v1h-1zM141 480h3v1h-3zM136 481h1v1h-1zM140 481h1v1h-1zM143 481h1v1h-1zM136 482h4v1h-4zM141 482h3v1h-3zM137 483h3v1h-3zM141 483h1v1h-1zM138 484h1v1h-1z" fill="#5662c0"/>
<path d="M136 410h2v1h-2zM139 410h1v1h-1zM136 411h2v1h-2zM138 412h1v1h-1zM135 413h2v1h-2zM140 413h1v1h-1zM142 413h1v1h-1zM135 414h1v1h-1zM137 414h3v1h-3zM142 414h1v1h-1zM135 415h1v1h-1zM140 415h5v1h-5zM135 416h1v1h-1zM143 416h1v1h-1zM135 417h1v1h-1zM142 417h1v1h-1zM144 417h2v1h-2zM135 418h1v1h-1zM141 418h1v1h-1zM135 419h1v1h-1zM144 419h1v1h-1zM135 420h1v1h-1zM142 420h1v1h-1zM144 420h1v1h-1zM146 420h1v1h-1zM144 421h2v1h-2zM135 422h1v1h-1zM144 422h1v1h-1zM136 423h1v1h-1zM144 423h2v1h-2zM135 424h1v1h-1zM135 425h1v1h-1zM144 425h2v1h-2zM135 426h1v1h-1zM146 426h1v1h-1zM135 427h2v1h-2zM136 429h1v1h-1zM146 429h1v1h-1zM136 430h1v1h-1zM145 430h2v1h-2zM149 430h1v1h-1zM136 431h1v1h-1zM146 431h1v1h-1zM145 432h2v1h-2zM136 433h1v1h-1zM146 434h1v1h-1zM145 435h2v1h-2zM139 436h2v1h-2zM146 436h1v1h-1zM137 438h1v1h-1zM147 438h1v1h-1zM137 439h1v1h-1zM145 439h1v1h-1zM145 440h3v1h-3zM137 441h1v1h-1zM147 441h1v1h-1zM137 442h1v1h-1zM145 442h1v1h-1zM147 442h1v1h-1zM137 443h1v1h-1zM144 443h1v1h-1zM146 443h1v1h-1zM149 443h1v1h-1zM146 444h3v1h-3zM147 445h1v1h-1zM145 446h2v1h-2zM144 447h2v1h-2zM147 447h1v1h-1zM136 448h1v1h-1zM147 448h1v1h-1zM146 449h1v1h-1zM136 451h1v1h-1zM146 451h2v1h-2zM136 452h2v1h-2zM143 452h1v1h-1zM145 452h1v1h-1zM147 452h1v1h-1zM142 453h1v1h-1zM144 453h2v1h-2zM137 454h1v1h-1zM144 454h1v1h-1zM146 454h1v1h-1zM137 455h1v1h-1zM145 455h1v1h-1zM135 456h1v1h-1zM135 457h1v1h-1zM144 457h3v1h-3zM135 458h1v1h-1zM145 458h2v1h-2zM134 459h1v1h-1zM144 459h1v1h-1zM145 460h2v1h-2zM134 461h1v1h-1zM145 461h2v1h-2zM146 462h2v1h-2zM133 463h1v1h-1zM145 463h2v1h-2zM146 464h1v1h-1zM146 465h1v1h-1zM145 466h2v1h-2zM133 467h1v1h-1zM145 467h2v1h-2zM145 468h2v1h-2zM145 469h2v1h-2zM133 470h1v1h-1zM146 472h1v1h-1zM145 473h1v1h-1zM134 474h1v1h-1zM144 475h2v1h-2zM144 476h1v1h-1zM137 477h1v1h-1zM143 477h1v1h-1zM143 478h1v1h-1zM135 479h1v1h-1zM140 479h4v1h-4zM136 480h5v1h-5zM137 481h3v1h-3zM141 481h1v1h-1zM140 482h1v1h-1z" fill="#4a60b8"/>
<path d="M138 411h2v1h-2zM136 412h1v1h-1zM139 412h1v1h-1zM137 413h3v1h-3zM141 413h1v1h-1zM136 414h1v1h-1zM140 414h2v1h-2zM138 415h2v1h-2zM136 416h3v1h-3zM140 416h3v1h-3zM136 417h1v1h-1zM141 417h1v1h-1zM136 418h1v1h-1zM138 418h1v1h-1zM143 418h1v1h-1zM141 419h1v1h-1zM143 419h1v1h-1zM143 420h1v1h-1zM135 421h1v1h-1zM143 421h1v1h-1zM142 422h1v1h-1zM135 423h1v1h-1zM142 424h1v1h-1zM144 424h1v1h-1zM143 425h1v1h-1zM136 426h1v1h-1zM143 426h3v1h-3zM136 428h2v1h-2zM145 428h1v1h-1zM143 429h1v1h-1zM145 429h1v1h-1zM143 430h2v1h-2zM144 431h2v1h-2zM136 432h1v1h-1zM143 432h1v1h-1zM137 433h1v1h-1zM143 433h3v1h-3zM145 434h1v1h-1zM143 435h2v1h-2zM137 436h1v1h-1zM145 436h1v1h-1zM138 437h1v1h-1zM141 437h5v1h-5zM144 438h2v1h-2zM146 439h1v1h-1zM138 440h1v1h-1zM144 440h1v1h-1zM142 441h1v1h-1zM144 441h2v1h-2zM138 443h1v1h-1zM137 444h1v1h-1zM144 445h3v1h-3zM144 446h1v1h-1zM146 447h1v1h-1zM137 448h1v1h-1zM145 449h1v1h-1zM137 450h1v1h-1zM143 450h1v1h-1zM145 450h1v1h-1zM143 451h3v1h-3zM144 452h1v1h-1zM141 453h1v1h-1zM143 453h1v1h-1zM138 454h1v1h-1zM143 454h1v1h-1zM145 454h1v1h-1zM142 455h3v1h-3zM136 456h1v1h-1zM141 456h1v1h-1zM143 456h1v1h-1zM136 457h1v1h-1zM138 457h1v1h-1zM136 458h1v1h-1zM140 458h1v1h-1zM143 458h2v1h-2zM135 459h1v1h-1zM143 459h1v1h-1zM143 460h1v1h-1zM144 461h1v1h-1zM134 462h1v1h-1zM134 465h1v1h-1zM145 465h1v1h-1zM134 466h1v1h-1zM134 467h1v1h-1zM144 467h1v1h-1zM133 468h1v1h-1zM145 471h1v1h-1zM144 472h1v1h-1zM134 473h1v1h-1zM143 473h2v1h-2zM142 474h3v1h-3zM134 475h1v1h-1zM143 475h1v1h-1zM142 476h1v1h-1zM135 477h1v1h-1zM142 477h1v1h-1zM141 478h2v1h-2zM136 479h1v1h-1zM138 479h2v1h-2z" fill="#3f80b0"/>
<path d="M137 412h1v1h-1zM136 415h2v1h-2zM139 416h1v1h-1zM137 417h1v1h-1zM139 417h2v1h-2zM142 418h1v1h-1zM136 419h2v1h-2zM142 419h1v1h-1zM137 420h1v1h-1zM141 420h1v1h-1zM136 422h1v1h-1zM139 422h3v1h-3zM143 422h1v1h-1zM141 423h1v1h-1zM143 423h1v1h-1zM136 424h1v1h-1zM143 424h1v1h-1zM137 425h1v1h-1zM141 425h1v1h-1zM138 427h1v1h-1zM141 427h2v1h-2zM144 427h2v1h-2zM140 428h5v1h-5zM139 429h2v1h-2zM144 429h1v1h-1zM137 431h1v1h-1zM137 432h2v1h-2zM142 432h1v1h-1zM144 432h1v1h-1zM141 433h1v1h-1zM137 434h3v1h-3zM141 434h1v1h-1zM143 434h2v1h-2zM138 435h1v1h-1zM141 435h2v1h-2zM138 436h1v1h-1zM143 436h2v1h-2zM140 437h1v1h-1zM138 438h1v1h-1zM141 438h1v1h-1zM143 438h1v1h-1zM138 439h1v1h-1zM143 439h2v1h-2zM140 440h2v1h-2zM143 440h1v1h-1zM143 441h1v1h-1zM138 442h1v1h-1zM140 442h3v1h-3zM143 443h1v1h-1zM144 444h2v1h-2zM137 445h1v1h-1zM141 445h2v1h-2zM138 446h1v1h-1zM137 447h2v1h-2zM144 448h2v1h-2zM137 449h2v1h-2zM143 449h2v1h-2zM138 450h1v1h-1zM144 450h1v1h-1zM137 451h2v1h-2zM142 451h1v1h-1zM139 452h1v1h-1zM141 452h2v1h-2zM138 453h1v1h-1zM140 453h1v1h-1zM139 454h4v1h-4zM138 455h2v1h-2zM137 456h1v1h-1zM142 456h1v1h-1zM137 457h1v1h-1zM141 457h3v1h-3zM137 458h1v1h-1zM141 458h2v1h-2zM135 460h1v1h-1zM142 460h1v1h-1zM144 460h1v1h-1zM135 461h1v1h-1zM143 461h1v1h-1zM135 462h1v1h-1zM143 462h3v1h-3zM134 463h1v1h-1zM144 463h1v1h-1zM134 464h2v1h-2zM144 464h1v1h-1zM143 466h2v1h-2zM134 468h1v1h-1zM143 468h1v1h-1zM134 469h1v1h-1zM143 469h2v1h-2zM134 470h1v1h-1zM144 470h2v1h-2zM144 471h1v1h-1zM134 472h1v1h-1zM142 473h1v1h-1zM135 474h2v1h-2zM135 475h1v1h-1zM142 475h1v1h-1zM135 476h2v1h-2zM138 476h1v1h-1zM140 476h2v1h-2zM143 476h1v1h-1zM136 477h1v1h-1zM139 477h2v1h-2zM136 478h1v1h-1zM140 478h1v1h-1zM137 479h1v1h-1z" fill="#45a080"/>
<path d="M138 417h1v1h-1zM137 418h1v1h-1zM139 418h2v1h-2zM139 419h2v1h-2zM136 420h1v1h-1zM138 420h3v1h-3zM136 421h1v1h-1zM138 421h1v1h-1zM140 421h3v1h-3zM137 422h2v1h-2zM139 423h1v1h-1zM142 423h1v1h-1zM136 425h1v1h-1zM138 425h1v1h-1zM142 425h1v1h-1zM137 426h1v1h-1zM141 426h1v1h-1zM140 427h1v1h-1zM143 427h1v1h-1zM137 429h1v1h-1zM141 429h2v1h-2zM137 430h1v1h-1zM139 430h1v1h-1zM142 430h1v1h-1zM138 431h1v1h-1zM141 431h2v1h-2zM141 432h1v1h-1zM138 433h3v1h-3zM140 434h1v1h-1zM142 434h1v1h-1zM139 435h2v1h-2zM141 436h2v1h-2zM139 437h1v1h-1zM140 438h1v1h-1zM142 438h1v1h-1zM139 439h2v1h-2zM142 439h1v1h-1zM139 440h1v1h-1zM140 441h2v1h-2zM143 442h2v1h-2zM140 443h3v1h-3zM138 444h1v1h-1zM140 444h2v1h-2zM143 444h1v1h-1zM138 445h1v1h-1zM143 445h1v1h-1zM137 446h1v1h-1zM141 446h1v1h-1zM143 446h1v1h-1zM141 447h3v1h-3zM138 448h1v1h-1zM142 448h2v1h-2zM139 449h1v1h-1zM141 449h2v1h-2zM142 450h1v1h-1zM139 451h1v1h-1zM141 451h1v1h-1zM138 452h1v1h-1zM140 452h1v1h-1zM139 453h1v1h-1zM140 455h2v1h-2zM138 456h3v1h-3zM139 457h2v1h-2zM138 458h1v1h-1zM136 459h2v1h-2zM139 459h1v1h-1zM141 459h2v1h-2zM136 460h3v1h-3zM136 461h1v1h-1zM141 461h1v1h-1zM135 463h1v1h-1zM143 463h1v1h-1zM142 464h2v1h-2zM144 465h1v1h-1zM135 466h1v1h-1zM135 467h1v1h-1zM135 468h1v1h-1zM142 468h1v1h-1zM144 468h1v1h-1zM143 470h1v1h-1zM134 471h1v1h-1zM142 471h2v1h-2zM143 472h1v1h-1zM135 473h1v1h-1zM141 474h1v1h-1zM136 475h1v1h-1zM138 475h1v1h-1zM141 475h1v1h-1zM139 476h1v1h-1zM141 477h1v1h-1zM137 478h3v1h-3z" fill="#62b448"/>
<path d="M138 419h1v1h-1zM139 421h1v1h-1zM138 423h1v1h-1zM140 423h1v1h-1zM137 424h2v1h-2zM140 424h2v1h-2zM140 425h1v1h-1zM138 426h3v1h-3zM142 426h1v1h-1zM137 427h1v1h-1zM138 428h1v1h-1zM138 429h1v1h-1zM138 430h1v1h-1zM140 430h2v1h-2zM140 431h1v1h-1zM143 431h1v1h-1zM139 432h2v1h-2zM142 433h1v1h-1zM139 438h1v1h-1zM141 439h1v1h-1zM142 440h1v1h-1zM138 441h2v1h-2zM139 442h1v1h-1zM139 443h1v1h-1zM139 444h1v1h-1zM142 444h1v1h-1zM139 446h2v1h-2zM142 446h1v1h-1zM141 448h1v1h-1zM139 450h1v1h-1zM141 450h1v1h-1zM140 451h1v1h-1zM139 458h1v1h-1zM140 459h1v1h-1zM140 460h2v1h-2zM142 461h1v1h-1zM136 462h1v1h-1zM142 462h1v1h-1zM141 463h2v1h-2zM135 465h1v1h-1zM140 465h1v1h-1zM138 466h1v1h-1zM142 467h2v1h-2zM135 469h1v1h-1zM142 469h1v1h-1zM142 470h1v1h-1zM135 471h1v1h-1zM135 472h1v1h-1zM141 472h1v1h-1zM136 473h2v1h-2zM140 475h1v1h-1z" fill="#a0c830"/>
<path d="M137 423h1v1h-1zM139 424h1v1h-1zM139 425h1v1h-1zM139 427h1v1h-1zM139 428h1v1h-1zM139 431h1v1h-1zM140 445h1v1h-1zM139 447h1v1h-1zM139 448h2v1h-2zM140 450h1v1h-1zM139 460h1v1h-1zM137 461h2v1h-2zM140 461h1v1h-1zM141 462h1v1h-1zM136 463h1v1h-1zM139 463h1v1h-1zM139 464h1v1h-1zM141 464h1v1h-1zM141 465h3v1h-3zM136 466h1v1h-1zM142 466h1v1h-1zM136 467h1v1h-1zM140 467h1v1h-1zM138 468h1v1h-1zM135 470h1v1h-1zM141 470h1v1h-1zM139 471h1v1h-1zM141 471h1v1h-1zM142 472h1v1h-1zM140 473h2v1h-2zM137 474h1v1h-1zM140 474h1v1h-1zM137 475h1v1h-1zM137 476h1v1h-1zM138 477h1v1h-1z" fill="#d0cc20"/>
<path d="M137 421h1v1h-1zM139 445h1v1h-1zM140 447h1v1h-1zM140 449h1v1h-1zM138 459h1v1h-1zM140 462h1v1h-1zM137 463h1v1h-1zM136 464h1v1h-1zM140 464h1v1h-1zM138 465h1v1h-1zM137 467h1v1h-1zM141 467h1v1h-1zM136 470h1v1h-1zM138 470h1v1h-1zM140 470h1v1h-1zM138 471h1v1h-1zM136 472h1v1h-1zM139 472h2v1h-2zM139 473h1v1h-1zM139 474h1v1h-1z" fill="#e8a818"/>
<path d="M138 462h1v1h-1zM140 463h1v1h-1zM139 465h1v1h-1zM137 466h1v1h-1zM136 469h1v1h-1zM139 469h2v1h-2zM140 471h1v1h-1zM138 474h1v1h-1zM139 475h1v1h-1z" fill="#e86a14"/>
<path d="M139 461h1v1h-1zM137 462h1v1h-1zM139 462h1v1h-1zM138 463h1v1h-1zM137 464h2v1h-2zM136 465h2v1h-2zM139 466h3v1h-3zM138 467h2v1h-2zM136 468h2v1h-2zM139 468h3v1h-3zM137 469h2v1h-2zM141 469h1v1h-1zM137 470h1v1h-1zM139 470h1v1h-1zM136 471h2v1h-2zM137 472h2v1h-2zM138 473h1v1h-1z" fill="#d4300c"/>
<path d="M119.8,389.2 L138.2,389.2 L148.2,414 L145.5,445.9 L126,449 Z" stroke="#111" stroke-width="0.9" fill="none"/>
<path d="M162,390.6 L214.5,390.6 L214,422 L190,425.8 L162.3,422.7 Z" stroke="#111" stroke-width="0.9" fill="none"/>
<rect x="196.8" y="375.4" width="38.4" height="19.2" fill="#fff" stroke="#111" stroke-width="1.35"/>
<text x="216" y="388.4" font-size="8.6" text-anchor="middle" fill="#1a1a1a" stroke="#1a1a1a" stroke-width="0.3">LSK</text>
<text x="297.8" y="366.0" font-size="11.4" font-weight="bold" fill="#000" stroke="#000" stroke-width="0.3">H</text>
<rect x="349.2" y="376.7" width="131.8" height="132.0" fill="none" stroke="#8a8a8a" stroke-width="0.9"/>
<line x1="349.2" y1="376.7" x2="349.2" y2="509.2" stroke="#222" stroke-width="1.0"/>
<line x1="348.7" y1="508.7" x2="481" y2="508.7" stroke="#222" stroke-width="1.0"/>
<line x1="346.0" y1="388.7" x2="349.2" y2="388.7" stroke="#111" stroke-width="1.1"/>
<line x1="346.0" y1="420.7" x2="349.2" y2="420.7" stroke="#111" stroke-width="1.1"/>
<line x1="346.0" y1="456.2" x2="349.2" y2="456.2" stroke="#111" stroke-width="1.1"/>
<line x1="346.0" y1="478.5" x2="349.2" y2="478.5" stroke="#111" stroke-width="1.1"/>
<line x1="346.0" y1="500" x2="349.2" y2="500" stroke="#111" stroke-width="1.1"/>
<line x1="355.9" y1="508.7" x2="355.9" y2="511.9" stroke="#111" stroke-width="1.1"/>
<line x1="379" y1="508.7" x2="379" y2="511.9" stroke="#111" stroke-width="1.1"/>
<line x1="400" y1="508.7" x2="400" y2="511.9" stroke="#111" stroke-width="1.1"/>
<line x1="436.6" y1="508.7" x2="436.6" y2="511.9" stroke="#111" stroke-width="1.1"/>
<line x1="469.8" y1="508.7" x2="469.8" y2="511.9" stroke="#111" stroke-width="1.1"/>
<text x="341.8" y="385.5" font-size="8.1" text-anchor="end" textLength="19.3" lengthAdjust="spacingAndGlyphs" fill="#1a1a1a" stroke="#1a1a1a" stroke-width="0.3">10e5</text>
<text x="341.8" y="419.09999999999997" font-size="8.1" text-anchor="end" textLength="19.3" lengthAdjust="spacingAndGlyphs" fill="#1a1a1a" stroke="#1a1a1a" stroke-width="0.3">10e4</text>
<text x="341.8" y="455.9" font-size="8.1" text-anchor="end" textLength="19.3" lengthAdjust="spacingAndGlyphs" fill="#1a1a1a" stroke="#1a1a1a" stroke-width="0.3">10e3</text>
<text x="341.8" y="481.2" font-size="8.1" text-anchor="end" fill="#1a1a1a" stroke="#1a1a1a" stroke-width="0.3">0</text>
<text x="341.8" y="501.29999999999995" font-size="8.1" text-anchor="end" textLength="24.7" lengthAdjust="spacingAndGlyphs" fill="#1a1a1a" stroke="#1a1a1a" stroke-width="0.3">−10e3</text>
<text x="355.9" y="520.6" font-size="8.1" text-anchor="middle" textLength="24.7" lengthAdjust="spacingAndGlyphs" fill="#1a1a1a" stroke="#1a1a1a" stroke-width="0.3">−10e3</text>
<text x="379.6" y="520.6" font-size="8.1" text-anchor="middle" fill="#1a1a1a" stroke="#1a1a1a" stroke-width="0.3">0</text>
<text x="399.4" y="520.6" font-size="8.1" text-anchor="middle" textLength="18.9" lengthAdjust="spacingAndGlyphs" fill="#1a1a1a" stroke="#1a1a1a" stroke-width="0.3">10e3</text>
<text x="433" y="520.6" font-size="8.1" text-anchor="middle" textLength="18.9" lengthAdjust="spacingAndGlyphs" fill="#1a1a1a" stroke="#1a1a1a" stroke-width="0.3">10e4</text>
<text x="466.2" y="520.6" font-size="8.1" text-anchor="middle" textLength="18.9" lengthAdjust="spacingAndGlyphs" fill="#1a1a1a" stroke="#1a1a1a" stroke-width="0.3">10e5</text>
<line x1="347.59999999999997" y1="411.0670401387526" x2="349.2" y2="411.0670401387526" stroke="#333" stroke-width="0.6"/>
<line x1="347.59999999999997" y1="405.4321198489708" x2="349.2" y2="405.4321198489708" stroke="#333" stroke-width="0.6"/>
<line x1="347.59999999999997" y1="401.4340802775052" x2="349.2" y2="401.4340802775052" stroke="#333" stroke-width="0.6"/>
<line x1="347.59999999999997" y1="398.3329598612474" x2="349.2" y2="398.3329598612474" stroke="#333" stroke-width="0.6"/>
<line x1="347.59999999999997" y1="395.7991599877234" x2="349.2" y2="395.7991599877234" stroke="#333" stroke-width="0.6"/>
<line x1="347.59999999999997" y1="393.65686271954377" x2="349.2" y2="393.65686271954377" stroke="#333" stroke-width="0.6"/>
<line x1="347.59999999999997" y1="391.8011204162578" x2="349.2" y2="391.8011204162578" stroke="#333" stroke-width="0.6"/>
<line x1="347.59999999999997" y1="390.1642396979416" x2="349.2" y2="390.1642396979416" stroke="#333" stroke-width="0.6"/>
<line x1="347.59999999999997" y1="445.51343515392864" x2="349.2" y2="445.51343515392864" stroke="#333" stroke-width="0.6"/>
<line x1="347.59999999999997" y1="439.262195457452" x2="349.2" y2="439.262195457452" stroke="#333" stroke-width="0.6"/>
<line x1="347.59999999999997" y1="434.82687030785735" x2="349.2" y2="434.82687030785735" stroke="#333" stroke-width="0.6"/>
<line x1="347.59999999999997" y1="431.38656484607134" x2="349.2" y2="431.38656484607134" stroke="#333" stroke-width="0.6"/>
<line x1="347.59999999999997" y1="428.57563061138063" x2="349.2" y2="428.57563061138063" stroke="#333" stroke-width="0.6"/>
<line x1="347.59999999999997" y1="426.1990195794939" x2="349.2" y2="426.1990195794939" stroke="#333" stroke-width="0.6"/>
<line x1="347.59999999999997" y1="424.140305461786" x2="349.2" y2="424.140305461786" stroke="#333" stroke-width="0.6"/>
<line x1="347.59999999999997" y1="422.324390914904" x2="349.2" y2="422.324390914904" stroke="#333" stroke-width="0.6"/>
<line x1="347.59999999999997" y1="460.65999999999997" x2="349.2" y2="460.65999999999997" stroke="#333" stroke-width="0.6"/>
<line x1="347.59999999999997" y1="465.12" x2="349.2" y2="465.12" stroke="#333" stroke-width="0.6"/>
<line x1="347.59999999999997" y1="468.465" x2="349.2" y2="468.465" stroke="#333" stroke-width="0.6"/>
<line x1="347.59999999999997" y1="471.81" x2="349.2" y2="471.81" stroke="#333" stroke-width="0.6"/>
<line x1="347.59999999999997" y1="474.04" x2="349.2" y2="474.04" stroke="#333" stroke-width="0.6"/>
<line x1="347.59999999999997" y1="475.824" x2="349.2" y2="475.824" stroke="#333" stroke-width="0.6"/>
<line x1="347.59999999999997" y1="477.162" x2="349.2" y2="477.162" stroke="#333" stroke-width="0.6"/>
<line x1="347.59999999999997" y1="479.79" x2="349.2" y2="479.79" stroke="#333" stroke-width="0.6"/>
<line x1="347.59999999999997" y1="481.08" x2="349.2" y2="481.08" stroke="#333" stroke-width="0.6"/>
<line x1="347.59999999999997" y1="482.8" x2="349.2" y2="482.8" stroke="#333" stroke-width="0.6"/>
<line x1="347.59999999999997" y1="484.95" x2="349.2" y2="484.95" stroke="#333" stroke-width="0.6"/>
<line x1="347.59999999999997" y1="488.175" x2="349.2" y2="488.175" stroke="#333" stroke-width="0.6"/>
<line x1="347.59999999999997" y1="491.4" x2="349.2" y2="491.4" stroke="#333" stroke-width="0.6"/>
<line x1="347.59999999999997" y1="495.7" x2="349.2" y2="495.7" stroke="#333" stroke-width="0.6"/>
<line x1="347.59999999999997" y1="379.0670401387526" x2="349.2" y2="379.0670401387526" stroke="#333" stroke-width="0.6"/>
<line x1="411.0176978413017" y1="508.7" x2="411.0176978413017" y2="510.3" stroke="#333" stroke-width="0.6"/>
<line x1="417.46263792273965" y1="508.7" x2="417.46263792273965" y2="510.3" stroke="#333" stroke-width="0.6"/>
<line x1="422.03539568260345" y1="508.7" x2="422.03539568260345" y2="510.3" stroke="#333" stroke-width="0.6"/>
<line x1="425.5823021586983" y1="508.7" x2="425.5823021586983" y2="510.3" stroke="#333" stroke-width="0.6"/>
<line x1="428.4803357640414" y1="508.7" x2="428.4803357640414" y2="510.3" stroke="#333" stroke-width="0.6"/>
<line x1="430.9305882645218" y1="508.7" x2="430.9305882645218" y2="510.3" stroke="#333" stroke-width="0.6"/>
<line x1="433.05309352390515" y1="508.7" x2="433.05309352390515" y2="510.3" stroke="#333" stroke-width="0.6"/>
<line x1="434.9252758454793" y1="508.7" x2="434.9252758454793" y2="510.3" stroke="#333" stroke-width="0.6"/>
<line x1="446.59419585604417" y1="508.7" x2="446.59419585604417" y2="510.3" stroke="#333" stroke-width="0.6"/>
<line x1="452.4404256566928" y1="508.7" x2="452.4404256566928" y2="510.3" stroke="#333" stroke-width="0.6"/>
<line x1="456.58839171208837" y1="508.7" x2="456.58839171208837" y2="510.3" stroke="#333" stroke-width="0.6"/>
<line x1="459.8058041439558" y1="508.7" x2="459.8058041439558" y2="510.3" stroke="#333" stroke-width="0.6"/>
<line x1="462.43462151273695" y1="508.7" x2="462.43462151273695" y2="510.3" stroke="#333" stroke-width="0.6"/>
<line x1="464.6572549284733" y1="508.7" x2="464.6572549284733" y2="510.3" stroke="#333" stroke-width="0.6"/>
<line x1="466.58258756813257" y1="508.7" x2="466.58258756813257" y2="510.3" stroke="#333" stroke-width="0.6"/>
<line x1="468.2808513133856" y1="508.7" x2="468.2808513133856" y2="510.3" stroke="#333" stroke-width="0.6"/>
<line x1="380.68" y1="508.7" x2="380.68" y2="510.3" stroke="#333" stroke-width="0.6"/>
<line x1="382.36" y1="508.7" x2="382.36" y2="510.3" stroke="#333" stroke-width="0.6"/>
<line x1="384.25" y1="508.7" x2="384.25" y2="510.3" stroke="#333" stroke-width="0.6"/>
<line x1="386.35" y1="508.7" x2="386.35" y2="510.3" stroke="#333" stroke-width="0.6"/>
<line x1="388.45" y1="508.7" x2="388.45" y2="510.3" stroke="#333" stroke-width="0.6"/>
<line x1="390.55" y1="508.7" x2="390.55" y2="510.3" stroke="#333" stroke-width="0.6"/>
<line x1="392.65" y1="508.7" x2="392.65" y2="510.3" stroke="#333" stroke-width="0.6"/>
<line x1="394.75" y1="508.7" x2="394.75" y2="510.3" stroke="#333" stroke-width="0.6"/>
<line x1="396.85" y1="508.7" x2="396.85" y2="510.3" stroke="#333" stroke-width="0.6"/>
<line x1="398.53" y1="508.7" x2="398.53" y2="510.3" stroke="#333" stroke-width="0.6"/>
<line x1="357.517" y1="508.7" x2="357.517" y2="510.3" stroke="#333" stroke-width="0.6"/>
<line x1="359.365" y1="508.7" x2="359.365" y2="510.3" stroke="#333" stroke-width="0.6"/>
<line x1="361.67499999999995" y1="508.7" x2="361.67499999999995" y2="510.3" stroke="#333" stroke-width="0.6"/>
<line x1="363.985" y1="508.7" x2="363.985" y2="510.3" stroke="#333" stroke-width="0.6"/>
<line x1="366.29499999999996" y1="508.7" x2="366.29499999999996" y2="510.3" stroke="#333" stroke-width="0.6"/>
<line x1="368.605" y1="508.7" x2="368.605" y2="510.3" stroke="#333" stroke-width="0.6"/>
<line x1="370.91499999999996" y1="508.7" x2="370.91499999999996" y2="510.3" stroke="#333" stroke-width="0.6"/>
<line x1="373.225" y1="508.7" x2="373.225" y2="510.3" stroke="#333" stroke-width="0.6"/>
<line x1="375.304" y1="508.7" x2="375.304" y2="510.3" stroke="#333" stroke-width="0.6"/>
<line x1="377.152" y1="508.7" x2="377.152" y2="510.3" stroke="#333" stroke-width="0.6"/>
<line x1="479.7941958560442" y1="508.7" x2="479.7941958560442" y2="510.3" stroke="#333" stroke-width="0.6"/>
<rect x="346.6" y="476.6" width="2.8" height="4" fill="#111"/>
<rect x="377" y="508.5" width="4.5" height="3" fill="#111"/>
<text transform="translate(315.7,444.3) rotate(-90) scale(0.72,1)" x="0" y="0" font-size="9.0" text-anchor="middle" textLength="20.83" lengthAdjust="spacing" fill="#1a1a1a" stroke="#1a1a1a" stroke-width="0.45">c-Kit</text>
<text transform="translate(399.6,536.1) scale(0.64,1)" x="0" y="0" font-size="10.0" textLength="42.81" lengthAdjust="spacing" fill="#1a1a1a" stroke="#1a1a1a" stroke-width="0.5">CD16-32</text>
<path d="M369.9,468.9 Q370.5,466.0 372.6,463.1 Q374.6,460.2 376.3,458.4 Q378.0,456.5 380.1,455.0 Q382.3,453.5 384.1,452.9 Q386.0,452.2 388.0,451.9 Q390.0,451.5 391.9,450.6 Q393.8,449.6 395.8,449.8 Q397.7,450.0 400.1,450.0 Q402.5,450.0 403.9,448.9 Q405.4,447.7 407.8,446.2 Q410.2,444.8 412.6,444.3 Q415.0,443.8 417.5,444.0 Q420.0,444.2 422.8,443.9 Q425.5,443.5 428.6,442.1 Q431.7,440.6 433.9,439.5 Q436.1,438.4 438.9,438.1 Q441.7,437.8 444.5,438.9 Q447.3,440.0 449.6,442.2 Q451.8,444.5 453.5,447.2 Q455.1,450.0 455.6,453.9 Q456.0,457.9 455.6,461.8 Q455.1,465.7 454.0,469.0 Q452.9,472.4 451.2,475.2 Q449.5,478.0 447.2,479.4 Q445.0,480.7 442.8,481.0 Q440.6,481.3 438.4,480.1 Q436.1,479.0 433.9,476.8 Q431.7,474.6 430.0,474.4 Q428.3,474.2 426.2,474.1 Q424.2,474.0 421.1,474.2 Q418.0,474.5 415.0,475.1 Q412.0,475.8 409.1,476.9 Q406.3,478.0 402.5,479.2 Q398.7,480.4 393.9,480.9 Q389.0,481.3 384.2,480.9 Q379.4,480.4 375.1,478.4 Q370.8,476.5 370.1,474.1 Q369.3,471.7 369.9,468.9Z" fill="url(#zb)"/>
<g clip-path="url(#zclip)">
<ellipse cx="414" cy="462" rx="14" ry="12" fill="#262626" opacity="0.55" filter="url(#blur2)"/>
<ellipse cx="388.6" cy="467.2" rx="17.2" ry="12.6" fill="url(#zz)" stroke="#f4f4f4" stroke-width="0.7"/>
<ellipse cx="386.6" cy="469.3" rx="11.6" ry="8.8" fill="url(#zz)" stroke="#f4f4f4" stroke-width="0.7"/>
<ellipse cx="385.8" cy="470.2" rx="8.2" ry="6.2" fill="url(#zz)" stroke="#f4f4f4" stroke-width="0.7"/>
<ellipse cx="385.5" cy="470.3" rx="4.8" ry="3.2" fill="url(#zz)" stroke="#f4f4f4" stroke-width="0.7"/>
<ellipse cx="385.7" cy="470.3" rx="2" ry="1.25" fill="#fff"/>
<ellipse cx="441.8" cy="460.5" rx="13.5" ry="19.5" fill="url(#zz)" stroke="#f0f0f0" stroke-width="0.55"/>
<ellipse cx="441.7" cy="462.2" rx="9.6" ry="14.6" fill="url(#zz)" stroke="#f0f0f0" stroke-width="0.55"/>
<ellipse cx="441.6" cy="462.8" rx="7.4" ry="11.0" fill="url(#zz)" stroke="#f0f0f0" stroke-width="0.55"/>
<ellipse cx="441.6" cy="463.4" rx="5.0" ry="7.0" fill="url(#zz)" stroke="#f0f0f0" stroke-width="0.55"/>
<ellipse cx="441.7" cy="463.4" rx="3" ry="4" fill="url(#zc)"/>
</g>
<path d="M371.4,468.3 Q372.0,465.6 374.0,463.0 Q375.9,460.3 377.6,458.5 Q379.2,456.8 381.3,455.4 Q383.4,454.0 385.2,453.4 Q386.9,452.8 388.9,452.5 Q390.8,452.2 392.6,451.3 Q394.5,450.4 396.4,450.6 Q398.2,450.8 400.6,450.8 Q402.9,450.8 404.3,449.7 Q405.7,448.6 408.0,447.3 Q410.3,445.9 412.6,445.5 Q414.9,445.0 417.3,445.2 Q419.8,445.4 422.4,445.1 Q425.1,444.7 428.1,443.4 Q431.0,442.0 433.2,441.0 Q435.3,440.0 438.0,439.7 Q440.7,439.4 443.4,440.4 Q446.1,441.5 448.3,443.6 Q450.4,445.7 452.0,448.2 Q453.6,450.8 454.1,454.4 Q454.5,458.1 454.1,461.7 Q453.6,465.4 452.6,468.5 Q451.5,471.6 449.9,474.2 Q448.2,476.8 446.1,478.1 Q443.9,479.3 441.8,479.6 Q439.6,479.9 437.5,478.8 Q435.3,477.7 433.2,475.7 Q431.0,473.6 429.4,473.5 Q427.8,473.3 425.8,473.2 Q423.8,473.1 420.8,473.3 Q417.8,473.6 414.9,474.2 Q412.0,474.8 409.3,475.8 Q406.5,476.8 402.9,477.9 Q399.2,479.0 394.5,479.5 Q389.8,479.9 385.2,479.5 Q380.6,479.0 376.4,477.2 Q372.3,475.4 371.6,473.2 Q370.8,471.0 371.4,468.3Z" fill="none" stroke="#e0e0e0" stroke-width="1.0" opacity="0.8"/>
<path d="M369.9,468.9 Q370.5,466.0 372.6,463.1 Q374.6,460.2 376.3,458.4 Q378.0,456.5 380.1,455.0 Q382.3,453.5 384.1,452.9 Q386.0,452.2 388.0,451.9 Q390.0,451.5 391.9,450.6 Q393.8,449.6 395.8,449.8 Q397.7,450.0 400.1,450.0 Q402.5,450.0 403.9,448.9 Q405.4,447.7 407.8,446.2 Q410.2,444.8 412.6,444.3 Q415.0,443.8 417.5,444.0 Q420.0,444.2 422.8,443.9 Q425.5,443.5 428.6,442.1 Q431.7,440.6 433.9,439.5 Q436.1,438.4 438.9,438.1 Q441.7,437.8 444.5,438.9 Q447.3,440.0 449.6,442.2 Q451.8,444.5 453.5,447.2 Q455.1,450.0 455.6,453.9 Q456.0,457.9 455.6,461.8 Q455.1,465.7 454.0,469.0 Q452.9,472.4 451.2,475.2 Q449.5,478.0 447.2,479.4 Q445.0,480.7 442.8,481.0 Q440.6,481.3 438.4,480.1 Q436.1,479.0 433.9,476.8 Q431.7,474.6 430.0,474.4 Q428.3,474.2 426.2,474.1 Q424.2,474.0 421.1,474.2 Q418.0,474.5 415.0,475.1 Q412.0,475.8 409.1,476.9 Q406.3,478.0 402.5,479.2 Q398.7,480.4 393.9,480.9 Q389.0,481.3 384.2,480.9 Q379.4,480.4 375.1,478.4 Q370.8,476.5 370.1,474.1 Q369.3,471.7 369.9,468.9Z" fill="none" stroke="#000" stroke-width="2.0" stroke-linejoin="round"/>
<path d="M369.9,468.9 Q370.5,466.0 372.6,463.1 Q374.6,460.2 376.3,458.4 Q378.0,456.5 380.1,455.0 Q382.3,453.5 384.1,452.9 Q386.0,452.2 388.0,451.9 Q390.0,451.5 391.9,450.6 Q393.8,449.6 395.8,449.8 Q397.7,450.0 400.1,450.0 Q402.5,450.0 403.9,448.9 Q405.4,447.7 407.8,446.2 Q410.2,444.8 412.6,444.3 Q415.0,443.8 417.5,444.0 Q420.0,444.2 422.8,443.9 Q425.5,443.5 428.6,442.1 Q431.7,440.6 433.9,439.5 Q436.1,438.4 438.9,438.1 Q441.7,437.8 444.5,438.9 Q447.3,440.0 449.6,442.2 Q451.8,444.5 453.5,447.2 Q455.1,450.0 455.6,453.9 Q456.0,457.9 455.6,461.8 Q455.1,465.7 454.0,469.0 Q452.9,472.4 451.2,475.2 Q449.5,478.0 447.2,479.4 Q445.0,480.7 442.8,481.0 Q440.6,481.3 438.4,480.1 Q436.1,479.0 433.9,476.8 Q431.7,474.6 430.0,474.4 Q428.3,474.2 426.2,474.1 Q424.2,474.0 421.1,474.2 Q418.0,474.5 415.0,475.1 Q412.0,475.8 409.1,476.9 Q406.3,478.0 402.5,479.2 Q398.7,480.4 393.9,480.9 Q389.0,481.3 384.2,480.9 Q379.4,480.4 375.1,478.4 Q370.8,476.5 370.1,474.1 Q369.3,471.7 369.9,468.9Z" fill="none" stroke="#000" stroke-width="2.2" stroke-linejoin="round" filter="url(#rough)"/>
<ellipse cx="414.5" cy="460.5" rx="2.3" ry="1.7" fill="#fff"/>
<ellipse cx="412.2" cy="463" rx="1.4" ry="1" fill="#fff"/>
<path d="M426,459.5 L429.8,456.8 L429.3,462.3 Z" fill="#fff"/>
<path d="M364,441.3 L392.6,430.8 M364,441.3 L366.2,496 L415.8,490" stroke="#111" stroke-width="0.9" fill="none"/>
<path d="M391.5,419.6 L421.3,407.5 L433.5,494.2 L418.2,494.9 Z" stroke="#111" stroke-width="0.9" fill="none"/>
<path d="M422.3,398 L435.4,398 M468.5,402.9 L463.3,494.9 L435.7,496.9 L421.5,407.5" stroke="#111" stroke-width="0.9" fill="none"/>
<rect x="352.3" y="411.2" width="39.1" height="19.3" fill="#fff" stroke="#111" stroke-width="1.35"/>
<text x="371.85" y="424.04999999999995" font-size="8.8" text-anchor="middle" fill="#1a1a1a" stroke="#1a1a1a" stroke-width="0.3">MEP</text>
<rect x="383.8" y="386.5" width="38.9" height="19.3" fill="#fff" stroke="#111" stroke-width="1.35"/>
<text x="403.25" y="399.34999999999997" font-size="8.8" text-anchor="middle" fill="#1a1a1a" stroke="#1a1a1a" stroke-width="0.3">CMP</text>
<rect x="435.4" y="383.1" width="38.4" height="19.8" fill="#fff" stroke="#111" stroke-width="1.35"/>
<text x="454.59999999999997" y="396.2" font-size="8.8" text-anchor="middle" fill="#1a1a1a" stroke="#1a1a1a" stroke-width="0.3">GMP</text>
</svg>
</body></html>
